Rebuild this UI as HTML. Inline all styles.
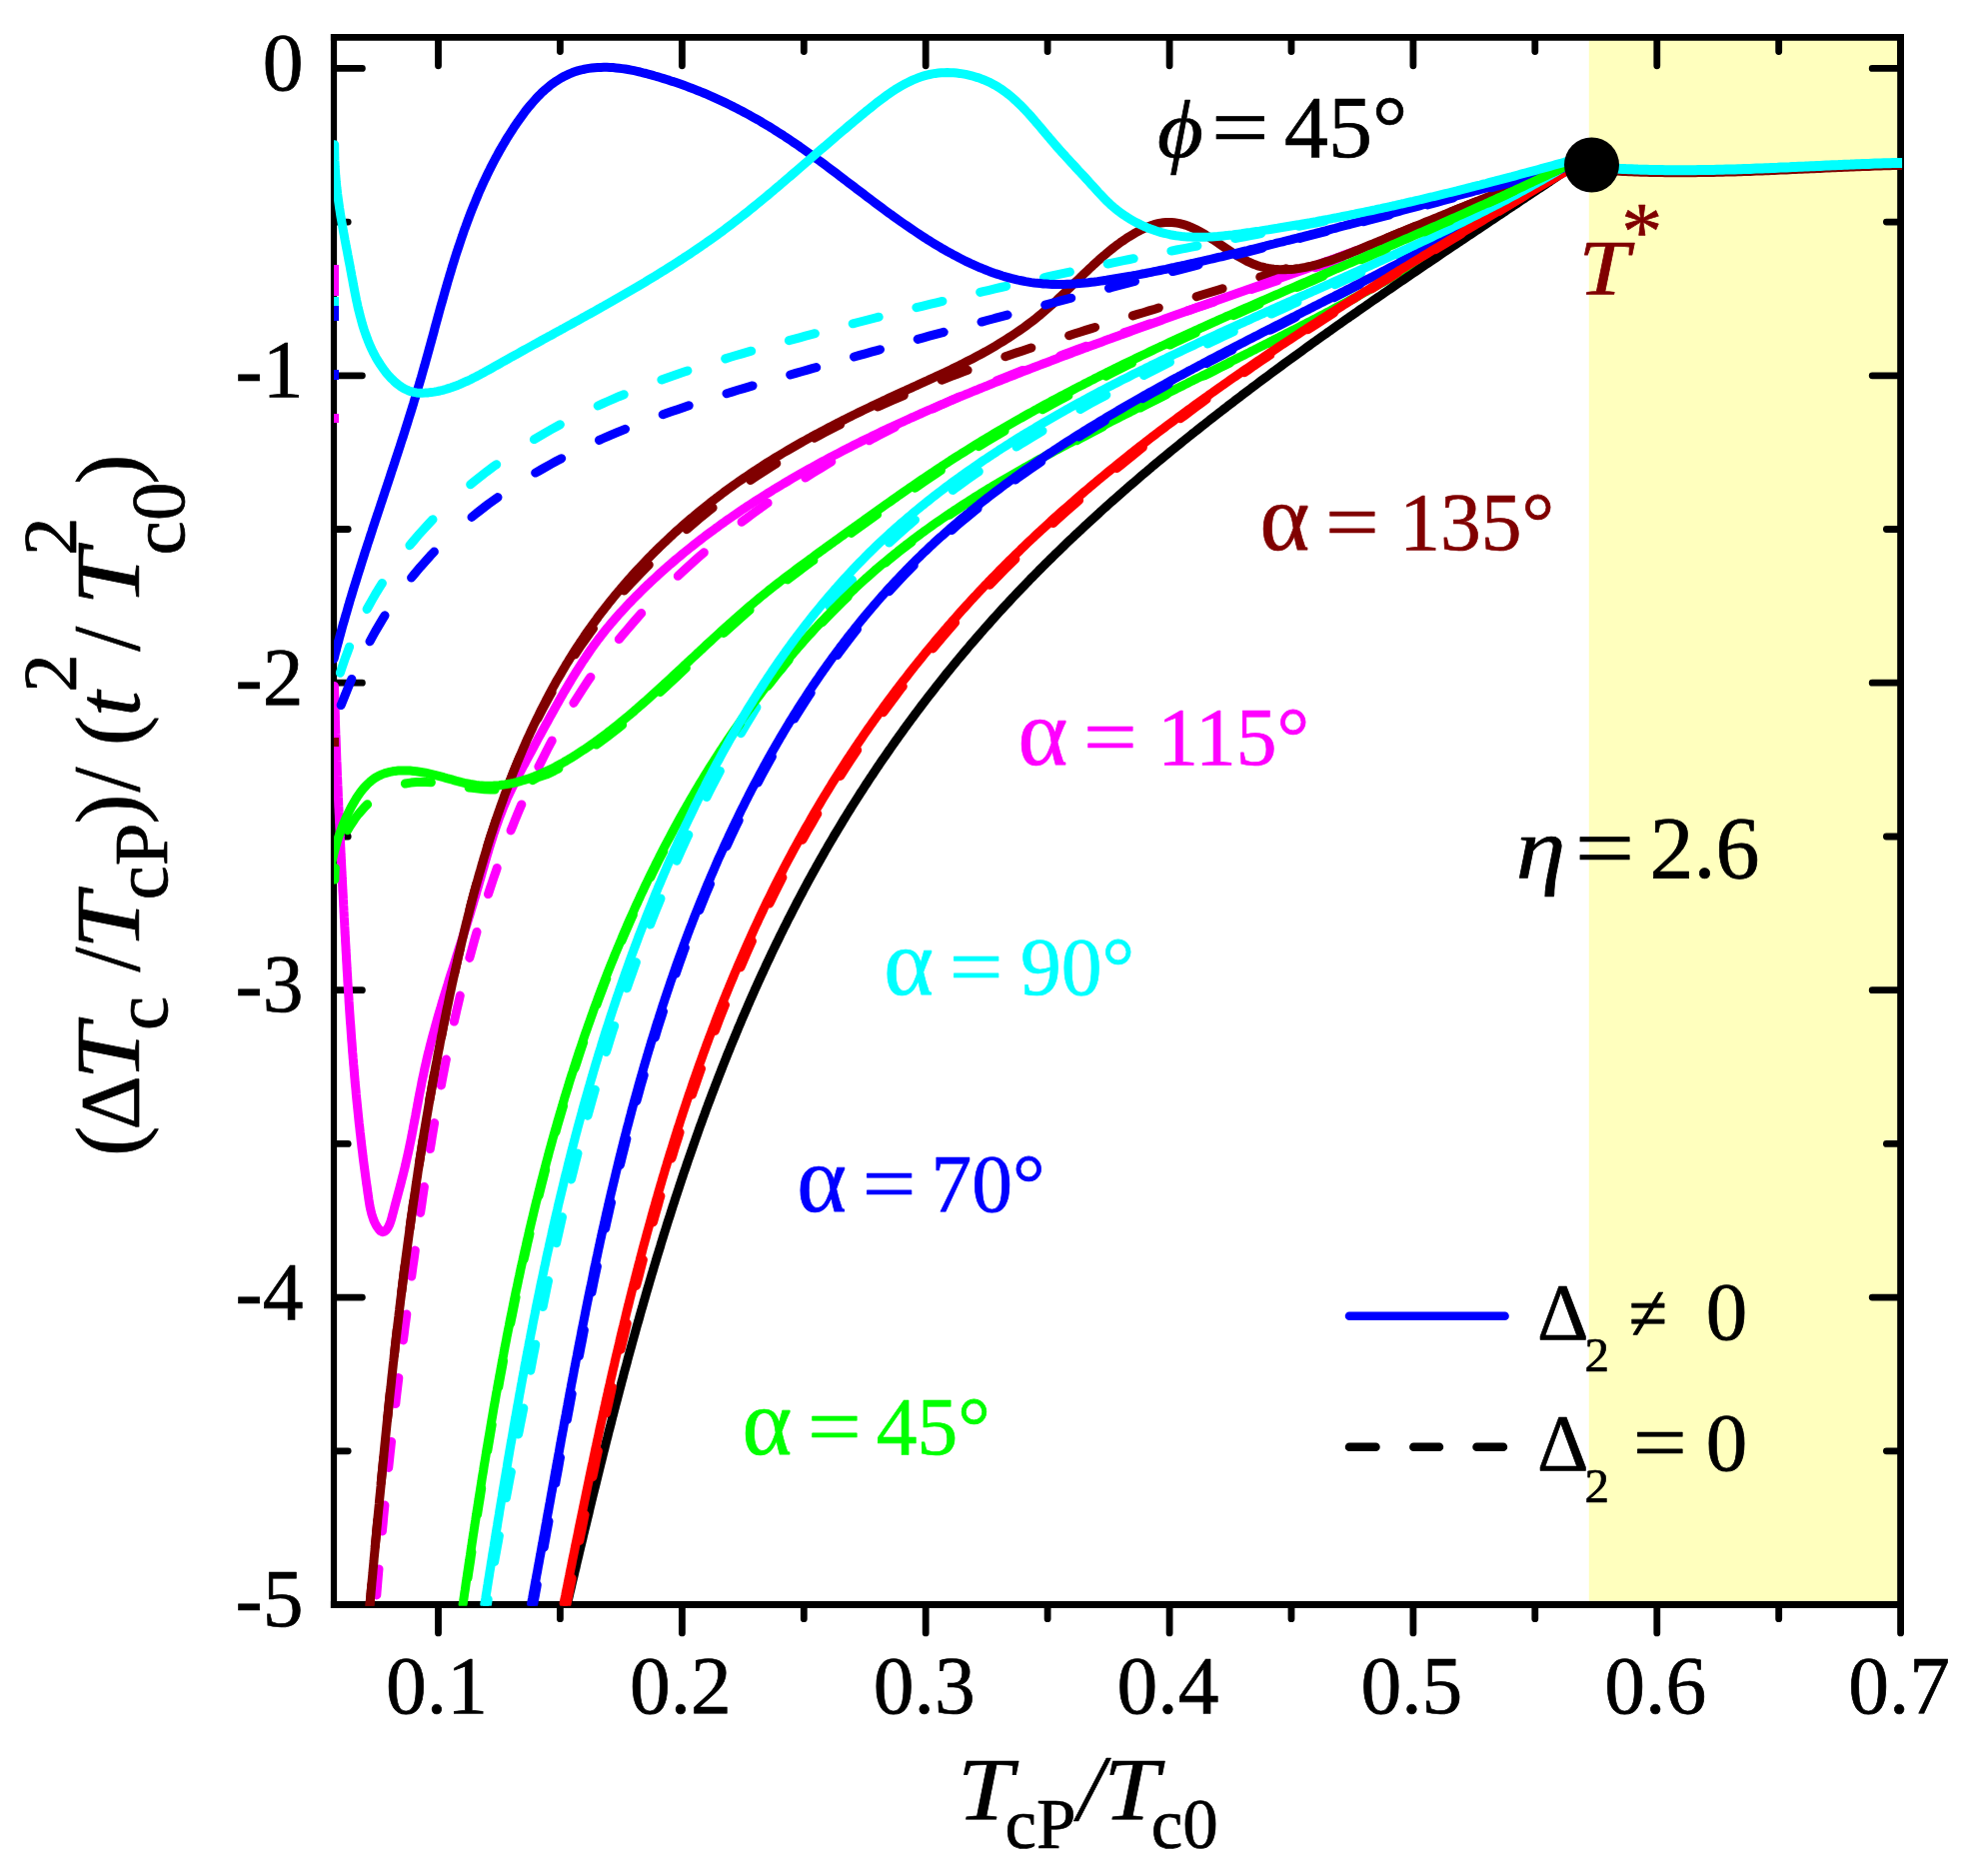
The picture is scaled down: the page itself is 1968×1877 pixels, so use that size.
<!DOCTYPE html>
<html><head><meta charset="utf-8"><title>Figure</title>
<style>
html,body{margin:0;padding:0;background:#fff}
svg{display:block}
text{font-family:"Liberation Serif","DejaVu Serif",serif;stroke-width:0.7px;stroke-linejoin:round}
#ylabel text{stroke:#000}
</style></head>
<body>
<svg width="1968" height="1877" viewBox="0 0 1968 1877">
<rect width="1968" height="1877" fill="#fff"/>
<defs><clipPath id="plot"><rect x="334" y="37.4" width="1569.1" height="1569.3"/></clipPath></defs>
<g id="frame">
<rect x="1589.8" y="37.4" width="311.8" height="1568.1" fill="#ffffbe"/>
<path d="M334 34V1608.9" stroke="#000" stroke-width="6.2" fill="none"/>
<path d="M330.9 37.4H1905M330.9 1605.5H1905M1901.6 37.4V1605.5" stroke="#000" stroke-width="6.8" fill="none"/>
<path d="M438.5 38.9v26.9M438.5 1607v26.9M560.4 38.9v12.7M560.4 1607v12.7M682.4 38.9v26.9M682.4 1607v26.9M804.3 38.9v12.7M804.3 1607v12.7M926.2 38.9v26.9M926.2 1607v26.9M1048.1 38.9v12.7M1048.1 1607v12.7M1170.1 38.9v26.9M1170.1 1607v26.9M1292 38.9v12.7M1292 1607v12.7M1413.9 38.9v26.9M1413.9 1607v26.9M1535.8 38.9v12.7M1535.8 1607v12.7M1657.8 38.9v26.9M1657.8 1607v26.9M1779.7 38.9v12.7M1779.7 1607v12.7M1901.6 38.9v26.9M1901.6 1607v26.9M335.5 68.4h26.9M1900.1 68.4h-26.9M335.5 222.1h12.7M1900.1 222.1h-12.7M335.5 375.8h26.9M1900.1 375.8h-26.9M335.5 529.5h12.7M1900.1 529.5h-12.7M335.5 683.2h26.9M1900.1 683.2h-26.9M335.5 837h12.7M1900.1 837h-12.7M335.5 990.7h26.9M1900.1 990.7h-26.9M335.5 1144.4h12.7M1900.1 1144.4h-12.7M335.5 1298.1h26.9M1900.1 1298.1h-26.9M335.5 1451.8h12.7M1900.1 1451.8h-12.7M335.5 1605.5h26.9M1900.1 1605.5h-26.9" stroke="#000" stroke-width="6.8" stroke-linecap="round" fill="none"/>
</g>
<g id="curves" clip-path="url(#plot)" fill="none" stroke-linecap="round" stroke-linejoin="round">
<path d="M369.9 1607.4L370.4 1601.3L370.7 1598.3L371.2 1592.3L371.5 1589.3L371.9 1585.1M375.3 1547.4L375.6 1544.1L376.2 1538.1L376.7 1532.1L377.3 1526.1L377.7 1521.4M381.3 1483.6L381.8 1478.1L382.4 1472.1L382.7 1469.1L383.3 1463.1L383.8 1457.6M387.6 1419.9L388.1 1415.3L388.7 1409.3L389.3 1403.3L389.9 1397.3L390.3 1393.9M394.4 1356.1L394.8 1352.5L395.4 1346.6L396.1 1340.6L396.8 1334.7L397.3 1330.1M401.8 1292.4L402.5 1287L403.2 1281L403.6 1278.1L404.3 1272.1L405.1 1266.4M410.1 1228.6L410.6 1224.6L411.4 1218.6L412.3 1212.7L413.1 1206.8L413.7 1202.6M419.3 1164.9L420.2 1159.3L421.1 1153.4L421.6 1150.4L422.5 1144.5L423.4 1138.9M429.7 1101.1L430.4 1097.1L431.5 1091.2L432.5 1085.3L433.6 1079.4L434.4 1075.1M441.5 1037.4L442.6 1032.1L443.7 1026.2L444.9 1020.3L446.1 1014.4L446.7 1011.4M454.8 973.6L455.6 970.1L456.9 964.2L458.2 958.3L459.6 952.4L460.7 947.6M470 909.9L471.1 905.4L472.6 899.6L474.2 893.7L475.8 887.9L476.9 883.9M487.9 846.1L489.3 841.6L491.1 835.8L493 830.1L494.9 824.4L496.3 820.1M509.9 782.4L511.1 779.2L513.2 773.7L516.6 765.3L518.9 759.8L520.3 756.4M538.1 718.6L540.5 714L543.2 708.8L547.5 700.9L550.3 695.7L552.1 692.6M575.2 654.9L578.3 650.2L581.6 645.3L586.8 638.1L590.3 633.2L593.5 628.9M624.5 591.1L630.1 584.9L634.2 580.6L640.4 574.1L644.6 569.8L649.3 565.1M687.1 529.7L690.6 526.6L697.4 520.8L702 516.9L709 511.3L713.1 508M750.8 480.5L754.8 477.8L759.8 474.5L767.3 469.7L772.3 466.5L776.8 463.7M814.6 438.2L819.9 435.4L825.3 432.6L830.7 429.8L836.1 427.1L840.6 424.8M878.3 407L882.4 405.1L888 402.7L893.5 400.2L899 397.8L904.3 395.6M942.1 380.2L946.5 378.5L952.1 376.4L957.7 374.2L963.4 372.1L968.1 370.3M1005.8 356.8L1008.8 355.8L1014.5 353.8L1023.1 350.9L1028.8 349L1031.8 348M1069.6 335.7L1074.7 334L1080.5 332.2L1086.2 330.4L1092 328.6L1095.6 327.5M1133.3 315.9L1138.2 314.4L1144 312.7L1149.8 310.9L1155.6 309.2L1159.3 308M1197.1 296.7L1201.8 295.2L1207.6 293.5L1213.4 291.7L1219.2 290L1223.1 288.8M1260.8 277.1L1265.3 275.7L1271 273.9L1276.8 272.1L1282.5 270.2L1286.8 268.8M1324.6 262.7L1330 261L1335.9 258.9L1338.8 257.8L1344.7 255.6L1350.6 253.4M1388.3 237.8L1393.6 235.6L1399.2 233.3L1404.8 231.1L1410.3 228.8L1414.3 227.1M1452.1 211.8L1456.9 209.8L1462.3 207.6L1467.7 205.5L1473.2 203.3L1478.1 201.3M1515.8 186.3L1520.1 184.6L1525.8 182.4L1531.4 180.2L1537.1 177.9L1541.8 176.1" stroke="#800000" stroke-width="9"/>
<path d="M376.8 1595.9L377.1 1592L377.6 1585.9L378.1 1579.9L378.6 1573.9L379 1569.9M382.4 1532.1L382.7 1528.9L383.3 1522.9L383.8 1516.9L384.4 1510.9L384.9 1506.1M388.7 1468.4L389.3 1463.1L389.9 1457.2L390.2 1454.2L390.9 1448.2L391.5 1442.4M395.8 1404.6L396.2 1400.6L396.9 1394.6L397.6 1388.7L398.3 1382.7L398.8 1378.6M403.4 1340.9L404.2 1335.1L404.9 1329.2L405.3 1326.2L406.1 1320.3L406.8 1314.9M411.7 1277.1L412.3 1272.7L413.1 1266.7L414 1260.8L414.8 1254.8L415.3 1251.1M420.6 1213.4L421.1 1210.1L422 1204.1L422.8 1198.2L423.7 1192.2L424.4 1187.4M430.3 1149.6L431.2 1144.5L432.1 1138.5L432.6 1135.5L433.6 1129.6L434.6 1123.6M441.4 1085.9L442.1 1082L443.2 1076.1L444.4 1070.1L445.5 1064.2L446.4 1059.9M454.3 1022.1L455.5 1017L456.8 1011.1L458.2 1005.2L459.6 999.3L460.3 996.1M469.8 958.4L470.6 955.5L472.2 949.6L473.8 943.8L475.4 938L477 932.4M488.5 894.6L490.3 889L492.2 883.3L494.1 877.6L496.1 871.9L497.2 868.6M511.1 830.9L512.8 826.7L515 821.1L517.3 815.5L519.6 810L521.8 804.9M538.9 767.1L540.8 763.4L543.5 758L547.5 750L550.3 744.7L552.2 741.1M573.9 703.4L575.7 700.6L580.5 693.1L583.7 688.1L588.7 680.6L590.9 677.4M619.3 639.6L622.8 635.4L628.6 628.6L632.5 624L638.4 617.3L641.7 613.6M678.3 576.3L682.3 572.5L689 566.4L693.4 562.4L700.1 556.4L704.3 552.8M742.1 522.2L746.9 518.6L751.7 515L759 509.7L763.9 506.2L768.1 503.2M805.8 478L808.9 476L814 472.8L821.7 468.1L826.9 465L831.8 462M869.6 440.8L873.9 438.4L879.3 435.6L887.2 431.5L892.6 428.7L895.6 427.2M933.3 408.9L938.5 406.5L944 404L949.5 401.5L955 399L959.3 397.1M997.1 381L1002 378.9L1007.6 376.7L1013.2 374.4L1018.8 372.2L1023.1 370.5M1060.8 355.9L1063.9 354.8L1069.5 352.7L1078 349.5L1083.7 347.4L1086.8 346.3M1124.6 332.8L1129.3 331.2L1135.1 329.2L1140.8 327.2L1146.5 325.2L1150.6 323.8M1188.3 310.9L1192.4 309.6L1198.1 307.6L1203.9 305.7L1209.6 303.8L1214.3 302.2M1252.1 289.5L1255.6 288.3L1261.3 286.4L1267 284.4L1272.8 282.5L1278.1 280.7M1315.8 267.8L1321.3 265.9L1327 263.9L1332.7 261.9L1338.4 259.9L1341.8 258.7M1379.6 245L1383.7 243.5L1389.3 241.4L1394.9 239.3L1400.6 237.2L1405.6 235.3M1443.3 220.5L1447.9 218.6L1453.5 216.4L1459 214.1L1464.5 211.8L1469.3 209.8M1507.1 193.3L1510.8 191.5L1516.2 189.1L1524.3 185.3L1529.7 182.8L1533.1 181.1" stroke="#ff00ff" stroke-width="9"/>
<path d="M487.4 1605.5L487.9 1602.6L488.2 1600.2M494.7 1562.5L495.3 1559L496.4 1553.2L497.4 1547.4L498.5 1541.6L499.4 1536.5M506.4 1498.7L507.1 1495L508.2 1489.2L509.3 1483.3L510.4 1477.5L511.4 1472.7M518.6 1435L519.5 1430.8L520.6 1424.9L521.8 1419.1L522.9 1413.3L523.8 1409M530.8 1371.2L531.7 1366.4L532.8 1360.5L533.9 1354.7L535.1 1348.8L535.7 1345.2M543.2 1307.5L544.3 1301.9L545.5 1296.1L546.7 1290.2L547.9 1284.4L548.5 1281.5M556.7 1243.7L557.3 1240.6L558.7 1234.8L560 1228.9L561.3 1223.1L562.5 1217.7M571.5 1180L572.3 1176.6L573.8 1170.8L575.2 1165L576.7 1159.2L578 1154M588 1116.2L588.9 1113L590.5 1107.2L592.1 1101.5L593.7 1095.7L595.3 1090.2M606.5 1052.5L608.2 1047.1L609.9 1041.4L611.7 1035.7L613.5 1030L614.7 1026.5M627.2 988.7L628.6 984.7L630.6 979.1L632.6 973.5L634.6 967.8L636.4 962.7M650.6 925L652.4 920.4L654.6 914.8L656.8 909.3L659.1 903.7L661 899M677 861.2L678.9 857L681.3 851.5L685 843.4L687.5 837.9L688.8 835.2M707 797.5L709.7 792.1L712.4 786.8L715.2 781.5L717.9 776.2L720.4 771.5M741.3 733.7L744 729.1L747.1 723.9L751.7 716.3L754.8 711.2L756.9 707.7M781.4 670L783.9 666.3L789 659L792.5 654.2L797.7 647L800 644M829.7 606.2L834.2 600.8L838.1 596.4L843.9 589.8L847.8 585.4L852.6 580.2M889.5 543.1L895.3 537.9L899.7 533.9L906.2 528.1L910.7 524.3L915.5 520.2M953.3 490.4L956.7 487.8L963.9 482.6L968.7 479.2L975.9 474.1L979.3 471.7M1017 447L1020.6 444.7L1025.7 441.6L1033.4 436.9L1038.5 433.8L1043 431.1M1080.8 409.5L1085.5 406.9L1090.7 403.9L1098.7 399.6L1104 396.7L1106.8 395.2M1144.5 375.4L1149.8 372.7L1155.3 369.9L1160.7 367.2L1166.2 364.5L1170.5 362.3M1208.3 344L1213 341.7L1218.5 339.1L1224 336.5L1229.6 333.9L1234.3 331.7M1272 314.1L1276.8 311.9L1282.4 309.3L1287.9 306.8L1293.5 304.2L1298 302.1M1335.8 284.8L1340.6 282.5L1346.1 280L1351.7 277.4L1357.2 274.9L1361.8 272.7M1399.5 255L1403.6 253L1409.1 250.4L1417.2 246.5L1422.6 243.9L1425.5 242.5M1463.3 223.7L1467.8 221.4L1473.1 218.7L1480.9 214.6L1486.1 211.9L1489.3 210.2M1527 189.6L1532 186.7L1537 183.9L1544.5 179.5L1549.4 176.6L1553 174.4" stroke="#00ffff" stroke-width="9"/>
<path d="M468 1578.9L468.8 1573.4L469.7 1567.5L470.6 1561.7L471.4 1555.9L471.9 1552.9M477.6 1515.2L478.1 1512L479 1506.2L480 1500.3L480.9 1494.4L481.7 1489.2M487.8 1451.4L488.5 1447.3L489.5 1441.4L490.5 1435.5L491.5 1429.6L492.2 1425.4M498.8 1387.7L499.7 1382.4L500.8 1376.5L501.9 1370.6L503 1364.7L503.5 1361.7M510.8 1323.9L511.5 1320.4L512.7 1314.5L513.9 1308.6L515.1 1302.7L516.1 1297.9M524.1 1260.2L525.2 1255.6L526.5 1249.7L527.8 1243.8L529.2 1237.9L530 1234.2M539.1 1196.4L540.4 1191.1L541.9 1185.2L543.4 1179.4L544.9 1173.5L545.7 1170.4M556 1132.7L557.5 1127.1L559.2 1121.3L560.9 1115.5L562.6 1109.8L563.5 1106.7M575.1 1068.9L576.8 1063.8L578.6 1058.1L580.5 1052.4L582.4 1046.7L583.7 1042.9M597 1005.2L598.3 1001.5L600.4 995.9L602.5 990.3L604.6 984.7L606.8 979.2M622 941.4L623.6 937.5L626 932L629.6 923.8L632 918.3L633.3 915.4M650.8 877.7L653.4 872.3L656 867L658.7 861.6L661.4 856.3L663.8 851.7M684 813.9L686.9 808.9L689.8 803.7L694.3 795.9L697.4 790.8L699.1 787.9M722.7 750.2L724.4 747.6L729.3 740.1L732.7 735.2L737.8 727.8L740.3 724.2M768.1 686.4L771.5 682.1L777.1 675L780.9 670.4L786.5 663.5L789.1 660.4M822.7 622.7L828.2 616.9L832.4 612.6L838.7 606.3L842.9 602.1L848.3 596.9M886 563L889.1 560.4L896 554.8L900.6 551.1L907.6 545.6L912 542.3M949.8 515.3L953.5 512.8L958.4 509.5L965.9 504.6L970.9 501.4L975.8 498.4M1013.5 475.6L1017 473.7L1022.2 470.7L1030 466.3L1035.3 463.3L1039.5 461M1077.3 440.7L1080.3 439.1L1085.7 436.3L1093.7 432.1L1099 429.3L1103.3 427.1M1141 407.9L1144.7 406L1150.1 403.3L1158.2 399.2L1163.6 396.5L1167 394.8M1204.8 375.9L1209.5 373.6L1214.9 370.9L1220.3 368.1L1225.7 365.4L1230.8 362.9M1268.5 343.8L1271.5 342.3L1276.8 339.6L1284.9 335.5L1290.2 332.7L1294.5 330.5M1332.3 310.7L1335.6 309L1340.9 306.1L1348.9 301.8L1354.2 299L1358.3 296.7M1396 275.7L1398.8 274.1L1404 271.1L1411.8 266.6L1417 263.5L1422 260.6M1459.8 237.6L1463.2 235.4L1468.2 232.2L1475.8 227.3L1480.9 224.1L1485.8 220.8M1523.5 195L1528 191.9L1532.9 188.3L1540.2 183L1545 179.4L1549.5 176" stroke="#00ff00" stroke-width="9"/>
<path d="M463.1 1605.1L463.6 1602.2L464 1599.4L464.4 1596.5L464.8 1593.6L465.3 1590.7L465.7 1587.8L466.1 1584.8L466.5 1581.9L467 1579L467.4 1576.1L467.8 1573.2L468.3 1570.3L468.7 1567.4L469.1 1564.5L469.6 1561.6L470 1558.7L470.5 1555.7L470.9 1552.8L471.3 1549.9L471.8 1547L472.2 1544.1L472.7 1541.1L473.1 1538.2L473.5 1535.3L474 1532.4L474.4 1529.4L474.9 1526.5L475.3 1523.6L475.8 1520.7L476.2 1517.7L476.7 1514.8L477.1 1511.9L477.6 1508.9L478.1 1506L478.5 1503.1L479 1500.1L479.4 1497.2L479.9 1494.3L480.4 1491.3L480.8 1488.4L481.3 1485.4L481.8 1482.5L482.2 1479.6L482.7 1476.6L483.2 1473.7L483.7 1470.7L484.1 1467.8L484.6 1464.8L485.1 1461.9L485.6 1459L486.1 1456L486.5 1453.1L487 1450.1L487.5 1447.2L488 1444.2L488.5 1441.3L489 1438.3L489.5 1435.4L490 1432.4L490.5 1429.5L491 1426.5L491.5 1423.6L492 1420.6L492.5 1417.7L493 1414.7L493.5 1411.8L494 1408.8L494.5 1405.9L495.1 1402.9L495.6 1399.9L496.1 1397L496.6 1394L497.2 1391.1L497.7 1388.1L498.2 1385.2L498.8 1382.2L499.3 1379.3L499.8 1376.3L500.4 1373.4L500.9 1370.4L501.5 1367.5L502 1364.5L502.6 1361.5L503.1 1358.6L503.7 1355.6L504.2 1352.7L504.8 1349.7L505.3 1346.8L505.9 1343.8L506.5 1340.9L507 1337.9L507.6 1335L508.2 1332L508.8 1329L509.4 1326.1L509.9 1323.1L510.5 1320.2L511.1 1317.2L511.7 1314.3L512.3 1311.3L512.9 1308.4L513.5 1305.4L514.1 1302.5L514.7 1299.5L515.3 1296.6L515.9 1293.6L516.5 1290.7L517.2 1287.7L517.8 1284.8L518.4 1281.8L519 1278.9L519.7 1275.9L520.3 1273L520.9 1270.1L521.6 1267.1L522.2 1264.2L522.9 1261.2L523.5 1258.3L524.2 1255.3L524.8 1252.4L525.5 1249.5L526.2 1246.5L526.8 1243.6L527.5 1240.6L528.2 1237.7L528.9 1234.8L529.5 1231.8L530.2 1228.9L530.9 1226L531.6 1223L532.3 1220.1L533 1217.2L533.7 1214.2L534.4 1211.3L535.1 1208.4L535.8 1205.4L536.5 1202.5L537.3 1199.6L538 1196.7L538.7 1193.7L539.5 1190.8L540.2 1187.9L540.9 1185L541.7 1182L542.4 1179.1L543.2 1176.2L543.9 1173.3L544.7 1170.4L545.5 1167.5L546.2 1164.6L547 1161.6L547.8 1158.7L548.6 1155.8L549.3 1152.9L550.1 1150L550.9 1147.1L551.7 1144.2L552.5 1141.3L553.3 1138.4L554.1 1135.5L554.9 1132.6L555.8 1129.7L556.6 1126.8L557.4 1123.9L558.2 1121L559.1 1118.1L559.9 1115.2L560.8 1112.4L561.6 1109.5L562.5 1106.6L563.3 1103.7L564.2 1100.8L565 1097.9L565.9 1095.1L566.8 1092.2L567.7 1089.3L568.6 1086.4L569.4 1083.6L570.3 1080.7L571.2 1077.8L572.1 1075L573.1 1072.1L574 1069.2L574.9 1066.4L575.8 1063.5L576.7 1060.7L577.7 1057.8L578.6 1055L579.5 1052.1L580.5 1049.3L581.5 1046.4L582.4 1043.6L583.4 1040.7L584.3 1037.9L585.3 1035.1L586.3 1032.2L587.3 1029.4L588.3 1026.6L589.3 1023.7L590.3 1020.9L591.3 1018.1L592.3 1015.2L593.3 1012.4L594.3 1009.6L595.3 1006.8L596.4 1004L597.4 1001.2L598.4 998.3L599.5 995.5L600.5 992.7L601.6 989.9L602.6 987.1L603.7 984.3L604.8 981.5L605.9 978.7L606.9 976L608 973.2L609.1 970.4L610.2 967.6L611.3 964.8L612.5 962L613.6 959.3L614.7 956.5L615.8 953.7L617 950.9L618.1 948.2L619.3 945.4L620.4 942.7L621.6 939.9L622.7 937.1L623.9 934.4L625.1 931.6L626.3 928.9L627.4 926.1L628.6 923.4L629.8 920.7L631 917.9L632.3 915.2L633.5 912.5L634.7 909.7L635.9 907L637.2 904.3L638.4 901.6L639.7 898.9L640.9 896.1L642.2 893.4L643.5 890.7L644.7 888L646 885.3L647.3 882.6L648.6 879.9L649.9 877.2L651.2 874.6L652.5 871.9L653.8 869.2L655.2 866.5L656.5 863.8L657.8 861.2L659.2 858.5L660.5 855.8L661.9 853.2L663.2 850.5L664.6 847.8L666 845.2L667.4 842.5L668.8 839.9L670.2 837.3L671.6 834.6L673 832L674.4 829.3L675.8 826.7L677.3 824.1L678.7 821.5L680.2 818.8L681.6 816.2L683.1 813.6L684.5 811L686 808.4L687.5 805.8L689 803.2L690.5 800.6L692 798L693.5 795.4L695 792.9L696.5 790.3L698.1 787.7L699.6 785.1L701.1 782.6L702.7 780L704.3 777.4L705.8 774.9L707.4 772.3L709 769.8L710.6 767.2L712.2 764.7L713.8 762.2L715.4 759.6L717 757.1L718.6 754.6L720.2 752.1L721.9 749.6L723.5 747.1L725.2 744.6L726.8 742.1L728.5 739.6L730.2 737.1L731.9 734.6L733.6 732.1L735.3 729.7L737 727.2L738.7 724.7L740.4 722.3L742.1 719.8L743.9 717.4L745.6 715L747.3 712.5L749.1 710.1L750.9 707.7L752.6 705.3L754.4 702.9L756.2 700.5L758 698.1L759.8 695.7L761.6 693.3L763.4 690.9L765.2 688.5L767.1 686.2L768.9 683.8L770.7 681.4L772.6 679.1L774.5 676.8L776.3 674.4L778.2 672.1L780.1 669.8L782 667.5L783.9 665.1L785.8 662.8L787.7 660.6L789.6 658.3L791.5 656L793.5 653.7L795.4 651.4L797.4 649.2L799.3 646.9L801.3 644.7L803.3 642.5L805.2 640.2L807.2 638L809.2 635.8L811.2 633.6L813.2 631.4L815.2 629.2L817.3 627L819.3 624.8L821.3 622.7L823.4 620.5L825.5 618.3L827.5 616.2L829.6 614.1L831.7 611.9L833.8 609.8L835.9 607.7L838 605.6L840.1 603.5L842.2 601.4L844.3 599.3L846.4 597.3L848.6 595.2L850.7 593.2L852.9 591.1L855.1 589.1L857.2 587.1L859.4 585L861.6 583L863.8 581L866 579L868.2 577.1L870.4 575.1L872.7 573.1L874.9 571.2L877.1 569.2L879.4 567.3L881.6 565.4L883.9 563.5L886.2 561.6L888.5 559.7L890.8 557.8L893.1 555.9L895.4 554L897.7 552.2L900 550.3L902.3 548.5L904.7 546.7L907 544.8L909.4 543L911.7 541.2L914.1 539.4L916.5 537.7L918.9 535.9L921.2 534.1L923.6 532.4L926 530.6L928.5 528.9L930.9 527.2L933.3 525.4L935.7 523.7L938.2 522L940.6 520.3L943.1 518.6L945.5 517L948 515.3L950.4 513.6L952.9 512L955.4 510.3L957.9 508.7L960.4 507L962.9 505.4L965.4 503.8L967.9 502.2L970.4 500.6L972.9 499L975.4 497.4L978 495.8L980.5 494.2L983 492.7L985.6 491.1L988.1 489.5L990.7 488L993.3 486.4L995.8 484.9L998.4 483.4L1001 481.8L1003.5 480.3L1006.1 478.8L1008.7 477.3L1011.3 475.8L1013.9 474.3L1016.5 472.8L1019.1 471.3L1021.7 469.8L1024.3 468.3L1026.9 466.9L1029.6 465.4L1032.2 463.9L1034.8 462.5L1037.4 461L1040.1 459.5L1042.7 458.1L1045.3 456.6L1048 455.2L1050.6 453.8L1053.3 452.3L1055.9 450.9L1058.6 449.5L1061.2 448.1L1063.9 446.6L1066.5 445.2L1069.2 443.8L1071.9 442.4L1074.5 441L1077.2 439.6L1079.9 438.2L1082.5 436.8L1085.2 435.4L1087.9 434L1090.6 432.6L1093.2 431.3L1095.9 429.9L1098.6 428.5L1101.3 427.1L1104 425.7L1106.7 424.4L1109.3 423L1112 421.6L1114.7 420.2L1117.4 418.9L1120.1 417.5L1122.8 416.1L1125.5 414.8L1128.2 413.4L1130.9 412.1L1133.6 410.7L1136.3 409.3L1139 408L1141.7 406.6L1144.4 405.3L1147.1 403.9L1149.8 402.6L1152.5 401.2L1155.2 399.9L1157.9 398.5L1160.6 397.2L1163.3 395.8L1166 394.5L1168.7 393.1L1171.4 391.8L1174.1 390.4L1176.8 389.1L1179.5 387.7L1182.2 386.4L1184.9 385L1187.6 383.7L1190.3 382.3L1193 381L1195.7 379.6L1198.4 378.3L1201.1 377L1203.8 375.6L1206.5 374.3L1209.2 372.9L1211.9 371.6L1214.6 370.2L1217.3 368.9L1220 367.5L1222.7 366.2L1225.4 364.8L1228.1 363.5L1230.8 362.1L1233.5 360.8L1236.2 359.4L1238.9 358.1L1241.6 356.7L1244.3 355.4L1247 354L1249.7 352.7L1252.4 351.3L1255.1 350L1257.7 348.6L1260.4 347.2L1263.1 345.9L1265.8 344.5L1268.5 343.2L1271.2 341.8L1273.9 340.4L1276.6 339.1L1279.3 337.7L1281.9 336.3L1284.6 335L1287.3 333.6L1290 332.2L1292.7 330.8L1295.4 329.5L1298 328.1L1300.7 326.7L1303.4 325.3L1306.1 323.9L1308.7 322.5L1311.4 321.2L1314.1 319.8L1316.8 318.4L1319.4 317L1322.1 315.6L1324.8 314.2L1327.4 312.8L1330.1 311.4L1332.7 310L1335.4 308.5L1338.1 307.1L1340.7 305.7L1343.4 304.3L1346 302.9L1348.7 301.5L1351.3 300L1354 298.6L1356.6 297.2L1359.2 295.7L1361.9 294.3L1364.5 292.8L1367.2 291.4L1369.8 290L1372.4 288.5L1375.1 287L1377.7 285.6L1380.3 284.1L1382.9 282.7L1385.6 281.2L1388.2 279.7L1390.8 278.2L1393.4 276.8L1396 275.3L1398.6 273.8L1401.3 272.3L1403.9 270.8L1406.5 269.3L1409.1 267.8L1411.7 266.3L1414.3 264.8L1416.9 263.3L1419.4 261.8L1422 260.2L1424.6 258.7L1427.2 257.2L1429.8 255.6L1432.4 254.1L1434.9 252.6L1437.5 251L1440.1 249.5L1442.6 247.9L1445.2 246.3L1447.8 244.8L1450.3 243.2L1452.9 241.6L1455.4 240L1458 238.4L1460.5 236.9L1463.1 235.3L1465.6 233.7L1468.1 232L1470.7 230.4L1473.2 228.8L1475.7 227.2L1478.2 225.6L1480.8 223.9L1483.3 222.3L1485.8 220.6L1488.3 219L1490.8 217.3L1493.3 215.7L1495.8 214L1498.3 212.3L1500.8 210.7L1503.3 209L1505.8 207.3L1508.2 205.6L1510.7 203.9L1513.2 202.2L1515.7 200.5L1518.1 198.7L1520.6 197L1523.1 195.3L1525.5 193.5L1528 191.8L1530.4 190L1532.8 188.3L1535.3 186.5L1537.7 184.8L1540.1 183L1542.6 181.2L1545 179.4L1547.4 177.6L1549.8 175.8L1552.2 174L1554.6 172.2L1557 170.3L1559.4 168.5L1561.8 166.7" stroke="#00ff00" stroke-width="9"/>
<path d="M567.5 1604.8L568.1 1601.9L568.8 1599.1L569.5 1596.2L570.1 1593.4L570.8 1590.6L571.5 1587.7L572.1 1584.9L572.8 1582L573.5 1579.2L574.2 1576.3L574.8 1573.5L575.5 1570.6L576.2 1567.8L576.8 1564.9L577.5 1562L578.2 1559.2L578.9 1556.3L579.5 1553.5L580.2 1550.6L580.9 1547.7L581.6 1544.9L582.3 1542L583 1539.1L583.6 1536.3L584.3 1533.4L585 1530.5L585.7 1527.6L586.4 1524.8L587.1 1521.9L587.8 1519L588.5 1516.1L589.2 1513.3L589.8 1510.4L590.5 1507.5L591.2 1504.6L591.9 1501.7L592.6 1498.9L593.3 1496L594 1493.1L594.7 1490.2L595.5 1487.3L596.2 1484.4L596.9 1481.5L597.6 1478.7L598.3 1475.8L599 1472.9L599.7 1470L600.4 1467.1L601.1 1464.2L601.9 1461.3L602.6 1458.4L603.3 1455.5L604 1452.6L604.8 1449.7L605.5 1446.8L606.2 1443.9L606.9 1441L607.7 1438.1L608.4 1435.2L609.1 1432.3L609.9 1429.5L610.6 1426.6L611.4 1423.7L612.1 1420.8L612.8 1417.9L613.6 1415L614.3 1412.1L615.1 1409.1L615.8 1406.2L616.6 1403.3L617.4 1400.4L618.1 1397.5L618.9 1394.6L619.6 1391.7L620.4 1388.8L621.2 1385.9L621.9 1383L622.7 1380.1L623.5 1377.2L624.2 1374.3L625 1371.4L625.8 1368.5L626.6 1365.6L627.4 1362.7L628.1 1359.8L628.9 1356.9L629.7 1354L630.5 1351.1L631.3 1348.2L632.1 1345.3L632.9 1342.4L633.7 1339.5L634.5 1336.6L635.3 1333.7L636.1 1330.8L636.9 1327.9L637.7 1325L638.6 1322.1L639.4 1319.2L640.2 1316.3L641 1313.4L641.8 1310.5L642.7 1307.6L643.5 1304.7L644.3 1301.8L645.2 1298.9L646 1296L646.8 1293.1L647.7 1290.2L648.5 1287.3L649.4 1284.4L650.2 1281.5L651.1 1278.6L651.9 1275.7L652.8 1272.8L653.7 1269.9L654.5 1267L655.4 1264.1L656.3 1261.2L657.1 1258.3L658 1255.4L658.9 1252.6L659.8 1249.7L660.7 1246.8L661.5 1243.9L662.4 1241L663.3 1238.1L664.2 1235.2L665.1 1232.4L666 1229.5L666.9 1226.6L667.8 1223.7L668.7 1220.8L669.7 1218L670.6 1215.1L671.5 1212.2L672.4 1209.3L673.3 1206.4L674.3 1203.6L675.2 1200.7L676.1 1197.8L677.1 1195L678 1192.1L679 1189.2L679.9 1186.3L680.9 1183.5L681.8 1180.6L682.8 1177.8L683.7 1174.9L684.7 1172L685.7 1169.2L686.7 1166.3L687.6 1163.5L688.6 1160.6L689.6 1157.7L690.6 1154.9L691.6 1152L692.6 1149.2L693.6 1146.3L694.6 1143.5L695.6 1140.6L696.6 1137.8L697.6 1135L698.6 1132.1L699.6 1129.3L700.6 1126.4L701.7 1123.6L702.7 1120.8L703.7 1117.9L704.8 1115.1L705.8 1112.3L706.8 1109.4L707.9 1106.6L708.9 1103.8L710 1101L711.1 1098.1L712.1 1095.3L713.2 1092.5L714.3 1089.7L715.3 1086.9L716.4 1084.1L717.5 1081.3L718.6 1078.4L719.7 1075.6L720.8 1072.8L721.9 1070L723 1067.2L724.1 1064.4L725.2 1061.6L726.3 1058.8L727.4 1056L728.5 1053.3L729.7 1050.5L730.8 1047.7L731.9 1044.9L733.1 1042.1L734.2 1039.3L735.4 1036.6L736.5 1033.8L737.7 1031L738.8 1028.2L740 1025.5L741.2 1022.7L742.3 1019.9L743.5 1017.2L744.7 1014.4L745.9 1011.7L747.1 1008.9L748.3 1006.1L749.5 1003.4L750.7 1000.6L751.9 997.9L753.1 995.2L754.3 992.4L755.5 989.7L756.8 986.9L758 984.2L759.2 981.5L760.5 978.8L761.7 976L763 973.3L764.2 970.6L765.5 967.9L766.7 965.2L768 962.4L769.3 959.7L770.6 957L771.8 954.3L773.1 951.6L774.4 948.9L775.7 946.2L777 943.5L778.3 940.9L779.6 938.2L780.9 935.5L782.3 932.8L783.6 930.1L784.9 927.4L786.3 924.8L787.6 922.1L788.9 919.4L790.3 916.8L791.7 914.1L793 911.5L794.4 908.8L795.8 906.2L797.1 903.5L798.5 900.9L799.9 898.2L801.3 895.6L802.7 893L804.1 890.3L805.5 887.7L806.9 885.1L808.3 882.4L809.7 879.8L811.2 877.2L812.6 874.6L814 872L815.5 869.4L816.9 866.8L818.4 864.2L819.9 861.6L821.3 859L822.8 856.4L824.3 853.8L825.7 851.2L827.2 848.7L828.7 846.1L830.2 843.5L831.7 841L833.2 838.4L834.7 835.8L836.3 833.3L837.8 830.7L839.3 828.2L840.9 825.6L842.4 823.1L843.9 820.5L845.5 818L847 815.5L848.6 812.9L850.2 810.4L851.7 807.9L853.3 805.4L854.9 802.9L856.5 800.4L858.1 797.9L859.7 795.3L861.3 792.8L862.9 790.4L864.5 787.9L866.1 785.4L867.8 782.9L869.4 780.4L871 777.9L872.7 775.5L874.3 773L876 770.5L877.6 768.1L879.3 765.6L880.9 763.1L882.6 760.7L884.3 758.2L886 755.8L887.7 753.4L889.4 750.9L891.1 748.5L892.8 746L894.5 743.6L896.2 741.2L897.9 738.8L899.6 736.4L901.4 734L903.1 731.6L904.8 729.1L906.6 726.7L908.3 724.4L910.1 722L911.8 719.6L913.6 717.2L915.4 714.8L917.2 712.4L918.9 710.1L920.7 707.7L922.5 705.3L924.3 703L926.1 700.6L927.9 698.3L929.7 695.9L931.6 693.6L933.4 691.2L935.2 688.9L937 686.6L938.9 684.2L940.7 681.9L942.6 679.6L944.4 677.3L946.3 674.9L948.1 672.6L950 670.3L951.9 668L953.8 665.7L955.7 663.4L957.5 661.1L959.4 658.9L961.3 656.6L963.2 654.3L965.2 652L967.1 649.8L969 647.5L970.9 645.2L972.8 643L974.8 640.7L976.7 638.5L978.7 636.2L980.6 634L982.6 631.8L984.5 629.5L986.5 627.3L988.5 625.1L990.5 622.9L992.4 620.6L994.4 618.4L996.4 616.2L998.4 614L1000.4 611.8L1002.4 609.6L1004.4 607.4L1006.4 605.2L1008.5 603.1L1010.5 600.9L1012.5 598.7L1014.6 596.5L1016.6 594.4L1018.7 592.2L1020.7 590.1L1022.8 587.9L1024.8 585.8L1026.9 583.6L1029 581.5L1031 579.3L1033.1 577.2L1035.2 575.1L1037.3 573L1039.4 570.8L1041.5 568.7L1043.6 566.6L1045.7 564.5L1047.8 562.4L1050 560.3L1052.1 558.2L1054.2 556.1L1056.3 554L1058.5 551.9L1060.6 549.9L1062.8 547.8L1064.9 545.7L1067.1 543.6L1069.2 541.6L1071.4 539.5L1073.6 537.5L1075.7 535.4L1077.9 533.4L1080.1 531.3L1082.3 529.3L1084.5 527.2L1086.7 525.2L1088.8 523.2L1091.1 521.1L1093.3 519.1L1095.5 517.1L1097.7 515.1L1099.9 513.1L1102.1 511L1104.3 509L1106.6 507L1108.8 505L1111 503L1113.3 501L1115.5 499.1L1117.8 497.1L1120 495.1L1122.3 493.1L1124.5 491.1L1126.8 489.2L1129.1 487.2L1131.3 485.2L1133.6 483.3L1135.9 481.3L1138.2 479.3L1140.4 477.4L1142.7 475.4L1145 473.5L1147.3 471.6L1149.6 469.6L1151.9 467.7L1154.2 465.7L1156.5 463.8L1158.8 461.9L1161.1 460L1163.5 458L1165.8 456.1L1168.1 454.2L1170.4 452.3L1172.7 450.4L1175.1 448.5L1177.4 446.6L1179.8 444.7L1182.1 442.8L1184.4 440.9L1186.8 439L1189.1 437.1L1191.5 435.2L1193.8 433.3L1196.2 431.5L1198.6 429.6L1200.9 427.7L1203.3 425.8L1205.7 424L1208 422.1L1210.4 420.2L1212.8 418.4L1215.2 416.5L1217.5 414.7L1219.9 412.8L1222.3 411L1224.7 409.1L1227.1 407.3L1229.5 405.4L1231.9 403.6L1234.3 401.8L1236.7 399.9L1239.1 398.1L1241.5 396.3L1243.9 394.4L1246.3 392.6L1248.7 390.8L1251.1 389L1253.5 387.1L1256 385.3L1258.4 383.5L1260.8 381.7L1263.2 379.9L1265.6 378.1L1268.1 376.3L1270.5 374.5L1272.9 372.7L1275.4 370.9L1277.8 369.1L1280.2 367.3L1282.7 365.5L1285.1 363.7L1287.6 361.9L1290 360.2L1292.5 358.4L1294.9 356.6L1297.4 354.8L1299.8 353.1L1302.3 351.3L1304.7 349.5L1307.2 347.7L1309.6 346L1312.1 344.2L1314.5 342.4L1317 340.7L1319.5 338.9L1321.9 337.2L1324.4 335.4L1326.9 333.7L1329.3 331.9L1331.8 330.2L1334.3 328.4L1336.7 326.7L1339.2 324.9L1341.7 323.2L1344.2 321.4L1346.6 319.7L1349.1 318L1351.6 316.2L1354.1 314.5L1356.6 312.8L1359 311L1361.5 309.3L1364 307.6L1366.5 305.9L1369 304.1L1371.5 302.4L1373.9 300.7L1376.4 299L1378.9 297.3L1381.4 295.6L1383.9 293.8L1386.4 292.1L1388.9 290.4L1391.4 288.7L1393.8 287L1396.3 285.3L1398.8 283.6L1401.3 281.9L1403.8 280.2L1406.3 278.5L1408.8 276.8L1411.3 275.1L1413.8 273.4L1416.3 271.7L1418.8 270L1421.3 268.3L1423.8 266.6L1426.3 264.9L1428.8 263.2L1431.3 261.5L1433.8 259.9L1436.3 258.2L1438.7 256.5L1441.2 254.8L1443.7 253.1L1446.2 251.4L1448.7 249.8L1451.2 248.1L1453.7 246.4L1456.2 244.7L1458.7 243L1461.2 241.4L1463.7 239.7L1466.2 238L1468.7 236.3L1471.2 234.7L1473.7 233L1476.2 231.3L1478.7 229.7L1481.2 228L1483.7 226.3L1486.1 224.7L1488.6 223L1491.1 221.3L1493.6 219.7L1496.1 218L1498.6 216.3L1501.1 214.7L1503.6 213L1506.1 211.4L1508.5 209.7L1511 208L1513.5 206.4L1516 204.7L1518.5 203.1L1521 201.4L1523.4 199.7L1525.9 198.1L1528.4 196.4L1530.9 194.8L1533.4 193.1L1535.8 191.5L1538.3 189.8L1540.8 188.2L1543.3 186.5L1545.7 184.9L1548.2 183.2L1550.7 181.6L1553.1 179.9L1555.6 178.3L1558.1 176.6L1560.5 174.9L1563 173.3L1565.5 171.6" stroke="#000000" stroke-width="9"/>
<path d="M533.8 1605L534.3 1602.1L535.4 1596.4L535.9 1593.5L537 1587.7L537.3 1585.7M544.3 1548L544.9 1544.3L546 1538.5L547 1532.7L548.1 1526.9L549 1522M555.8 1484.2L556.5 1480.1L557.6 1474.3L558.7 1468.4L559.7 1462.5L560.5 1458.2M567.4 1420.5L568.3 1415.5L569.4 1409.6L570.5 1403.7L571.6 1397.8L572.2 1394.5M579.4 1356.7L580 1353.6L581.1 1347.7L582.3 1341.8L583.4 1335.9L584.4 1330.7M592 1293L592.9 1288.6L594.1 1282.7L595.3 1276.8L596.6 1270.9L597.4 1267M605.6 1229.2L606.8 1223.7L608.1 1217.9L608.8 1214.9L610.1 1209L611.5 1203.2M620.4 1165.5L621.3 1162.1L622.7 1156.3L624.2 1150.4L625.6 1144.6L626.9 1139.5M636.9 1101.7L637.9 1098L639.5 1092.2L641.1 1086.4L642.8 1080.6L644.2 1075.7M655.3 1038L656.4 1034.6L658.1 1028.8L659.9 1023.1L661.8 1017.4L663.5 1012M676.2 974.2L677.9 969.2L679.9 963.5L681.9 957.9L683.9 952.3L685.4 948.2M699.8 910.5L702.1 904.9L704.3 899.4L706.5 893.9L708.8 888.4L710.5 884.5M727 846.7L729.1 842.1L731.6 836.7L734.1 831.3L736.7 825.9L739.2 820.7M758.3 783L760.8 778.1L763.6 772.9L767.9 765.1L770.8 759.9L772.4 757M794.6 719.2L796.4 716.4L801.1 708.9L804.3 703.9L809.1 696.4L811.2 693.2M837.6 655.5L839.6 652.8L844.9 645.7L848.5 641L853.9 634L857.5 629.5M889.6 591.7L893.9 587L900 580.5L904 576.2L910.2 569.9L914.3 565.7M952.1 530.5L957.6 525.7L962.1 521.9L968.9 516.2L973.4 512.5L978.1 508.7M1015.8 480L1018.3 478.2L1025.6 473L1030.5 469.6L1037.9 464.5L1041.8 461.8M1079.6 437L1083.1 434.8L1088.2 431.6L1095.9 426.8L1101.1 423.6L1105.6 420.9M1143.3 398.7L1148.2 395.9L1153.5 392.9L1158.8 390L1164.2 387L1169.3 384.1M1207.1 363.6L1209.8 362.1L1215.2 359.3L1223.4 355L1228.8 352.1L1233.1 349.9M1270.8 330.3L1275 328.2L1280.4 325.4L1288.6 321.2L1294.1 318.4L1296.8 317M1334.6 297.7L1337.5 296.2L1343 293.4L1351.1 289.2L1356.5 286.5L1360.6 284.4M1398.3 264.7L1402.1 262.7L1407.4 259.9L1415.4 255.7L1420.6 252.8L1424.3 250.8M1462.1 230.1L1465 228.4L1472.8 224L1477.9 221.1L1485.5 216.7L1488.1 215.2M1525.8 192.4L1530.5 189.5L1535.4 186.4L1542.6 181.8L1547.5 178.6L1551.8 175.8" stroke="#0000ff" stroke-width="9"/>
<path d="M531.6 1604.6L532.1 1601.7L532.7 1598.8L533.2 1595.9L533.7 1593.1L534.3 1590.2L534.8 1587.3L535.3 1584.4L535.9 1581.5L536.4 1578.7L536.9 1575.8L537.5 1572.9L538 1570L538.5 1567.1L539.1 1564.2L539.6 1561.3L540.1 1558.4L540.7 1555.5L541.2 1552.6L541.7 1549.7L542.2 1546.8L542.8 1543.9L543.3 1541L543.8 1538.1L544.4 1535.2L544.9 1532.3L545.4 1529.4L545.9 1526.5L546.5 1523.6L547 1520.6L547.5 1517.7L548 1514.8L548.6 1511.9L549.1 1509L549.6 1506.1L550.2 1503.1L550.7 1500.2L551.2 1497.3L551.7 1494.4L552.3 1491.5L552.8 1488.5L553.3 1485.6L553.9 1482.7L554.4 1479.7L554.9 1476.8L555.4 1473.9L556 1471L556.5 1468L557 1465.1L557.6 1462.2L558.1 1459.2L558.6 1456.3L559.2 1453.3L559.7 1450.4L560.2 1447.5L560.8 1444.5L561.3 1441.6L561.8 1438.7L562.4 1435.7L562.9 1432.8L563.5 1429.8L564 1426.9L564.5 1423.9L565.1 1421L565.6 1418.1L566.2 1415.1L566.7 1412.2L567.2 1409.2L567.8 1406.3L568.3 1403.3L568.9 1400.4L569.4 1397.4L570 1394.5L570.5 1391.5L571.1 1388.6L571.6 1385.6L572.2 1382.7L572.8 1379.7L573.3 1376.8L573.9 1373.8L574.4 1370.9L575 1367.9L575.6 1365L576.1 1362L576.7 1359.1L577.3 1356.1L577.8 1353.2L578.4 1350.2L579 1347.2L579.5 1344.3L580.1 1341.3L580.7 1338.4L581.3 1335.4L581.8 1332.5L582.4 1329.5L583 1326.6L583.6 1323.6L584.2 1320.7L584.8 1317.7L585.4 1314.7L585.9 1311.8L586.5 1308.8L587.1 1305.9L587.7 1302.9L588.3 1300L588.9 1297L589.5 1294.1L590.1 1291.1L590.7 1288.2L591.4 1285.2L592 1282.3L592.6 1279.3L593.2 1276.3L593.8 1273.4L594.4 1270.4L595 1267.5L595.7 1264.5L596.3 1261.6L596.9 1258.6L597.6 1255.7L598.2 1252.7L598.8 1249.8L599.5 1246.8L600.1 1243.9L600.7 1240.9L601.4 1238L602 1235L602.7 1232.1L603.3 1229.2L604 1226.2L604.7 1223.3L605.3 1220.3L606 1217.4L606.6 1214.4L607.3 1211.5L608 1208.5L608.7 1205.6L609.3 1202.7L610 1199.7L610.7 1196.8L611.4 1193.8L612.1 1190.9L612.8 1188L613.5 1185L614.2 1182.1L614.9 1179.2L615.6 1176.2L616.3 1173.3L617 1170.4L617.7 1167.4L618.4 1164.5L619.1 1161.6L619.8 1158.7L620.6 1155.7L621.3 1152.8L622 1149.9L622.8 1147L623.5 1144L624.2 1141.1L625 1138.2L625.7 1135.3L626.5 1132.3L627.2 1129.4L628 1126.5L628.8 1123.6L629.5 1120.7L630.3 1117.8L631.1 1114.9L631.8 1112L632.6 1109L633.4 1106.1L634.2 1103.2L635 1100.3L635.8 1097.4L636.6 1094.5L637.4 1091.6L638.2 1088.7L639 1085.8L639.8 1082.9L640.6 1080L641.5 1077.1L642.3 1074.2L643.1 1071.4L643.9 1068.5L644.8 1065.6L645.6 1062.7L646.5 1059.8L647.3 1056.9L648.2 1054L649 1051.2L649.9 1048.3L650.8 1045.4L651.6 1042.5L652.5 1039.7L653.4 1036.8L654.3 1033.9L655.2 1031.1L656 1028.2L656.9 1025.3L657.8 1022.5L658.8 1019.6L659.7 1016.7L660.6 1013.9L661.5 1011L662.4 1008.2L663.3 1005.3L664.3 1002.5L665.2 999.6L666.2 996.8L667.1 993.9L668.1 991.1L669 988.3L670 985.4L670.9 982.6L671.9 979.8L672.9 976.9L673.9 974.1L674.8 971.3L675.8 968.4L676.8 965.6L677.8 962.8L678.8 960L679.8 957.2L680.9 954.4L681.9 951.5L682.9 948.7L683.9 945.9L685 943.1L686 940.3L687.1 937.5L688.1 934.7L689.2 931.9L690.2 929.1L691.3 926.3L692.4 923.6L693.4 920.8L694.5 918L695.6 915.2L696.7 912.4L697.8 909.7L698.9 906.9L700 904.1L701.1 901.3L702.3 898.6L703.4 895.8L704.5 893.1L705.6 890.3L706.8 887.5L707.9 884.8L709.1 882L710.3 879.3L711.4 876.5L712.6 873.8L713.8 871.1L715 868.3L716.1 865.6L717.3 862.9L718.5 860.1L719.7 857.4L721 854.7L722.2 852L723.4 849.3L724.6 846.5L725.9 843.8L727.1 841.1L728.4 838.4L729.6 835.7L730.9 833L732.2 830.3L733.4 827.6L734.7 825L736 822.3L737.3 819.6L738.6 816.9L739.9 814.2L741.2 811.6L742.5 808.9L743.9 806.2L745.2 803.6L746.5 800.9L747.9 798.2L749.2 795.6L750.6 792.9L751.9 790.3L753.3 787.6L754.7 785L756.1 782.4L757.5 779.7L758.9 777.1L760.3 774.5L761.7 771.9L763.1 769.2L764.5 766.6L766 764L767.4 761.4L768.8 758.8L770.3 756.2L771.8 753.6L773.2 751L774.7 748.4L776.2 745.9L777.7 743.3L779.2 740.7L780.7 738.1L782.2 735.6L783.7 733L785.2 730.5L786.7 727.9L788.3 725.4L789.8 722.8L791.4 720.3L792.9 717.8L794.5 715.2L796.1 712.7L797.6 710.2L799.2 707.7L800.8 705.2L802.4 702.7L804 700.2L805.7 697.7L807.3 695.2L808.9 692.7L810.5 690.3L812.2 687.8L813.8 685.3L815.5 682.9L817.2 680.4L818.9 678L820.5 675.6L822.2 673.1L823.9 670.7L825.6 668.3L827.3 665.9L829.1 663.4L830.8 661L832.5 658.6L834.3 656.3L836 653.9L837.8 651.5L839.6 649.1L841.3 646.7L843.1 644.4L844.9 642L846.7 639.7L848.5 637.3L850.3 635L852.2 632.7L854 630.4L855.8 628.1L857.7 625.7L859.5 623.5L861.4 621.2L863.3 618.9L865.1 616.6L867 614.3L868.9 612.1L870.8 609.8L872.7 607.6L874.7 605.3L876.6 603.1L878.5 600.9L880.5 598.6L882.4 596.4L884.4 594.2L886.4 592L888.3 589.8L890.3 587.6L892.3 585.5L894.3 583.3L896.3 581.2L898.4 579L900.4 576.9L902.4 574.7L904.5 572.6L906.5 570.5L908.6 568.4L910.7 566.3L912.7 564.2L914.8 562.1L916.9 560L919 558L921.2 555.9L923.3 553.8L925.4 551.8L927.6 549.8L929.7 547.7L931.9 545.7L934 543.7L936.2 541.7L938.4 539.7L940.6 537.7L942.8 535.8L945 533.8L947.2 531.8L949.4 529.9L951.6 527.9L953.9 526L956.1 524.1L958.4 522.2L960.6 520.2L962.9 518.3L965.2 516.4L967.5 514.5L969.8 512.7L972.1 510.8L974.4 508.9L976.7 507L979 505.2L981.3 503.3L983.6 501.5L986 499.7L988.3 497.8L990.7 496L993 494.2L995.4 492.4L997.8 490.6L1000.2 488.8L1002.6 487L1004.9 485.2L1007.3 483.5L1009.8 481.7L1012.2 479.9L1014.6 478.2L1017 476.4L1019.4 474.7L1021.9 472.9L1024.3 471.2L1026.8 469.5L1029.2 467.8L1031.7 466.1L1034.1 464.4L1036.6 462.7L1039.1 461L1041.6 459.3L1044.1 457.6L1046.5 455.9L1049 454.2L1051.6 452.6L1054.1 450.9L1056.6 449.3L1059.1 447.6L1061.6 446L1064.1 444.3L1066.7 442.7L1069.2 441.1L1071.8 439.4L1074.3 437.8L1076.9 436.2L1079.4 434.6L1082 433L1084.5 431.4L1087.1 429.8L1089.7 428.2L1092.3 426.6L1094.9 425L1097.4 423.5L1100 421.9L1102.6 420.3L1105.2 418.8L1107.8 417.2L1110.4 415.7L1113.1 414.1L1115.7 412.6L1118.3 411L1120.9 409.5L1123.5 408L1126.2 406.4L1128.8 404.9L1131.4 403.4L1134.1 401.9L1136.7 400.4L1139.4 398.8L1142 397.3L1144.7 395.8L1147.3 394.3L1150 392.8L1152.6 391.4L1155.3 389.9L1158 388.4L1160.6 386.9L1163.3 385.4L1166 384L1168.7 382.5L1171.3 381L1174 379.5L1176.7 378.1L1179.4 376.6L1182.1 375.2L1184.8 373.7L1187.5 372.3L1190.2 370.8L1192.9 369.4L1195.6 367.9L1198.3 366.5L1201 365.1L1203.7 363.6L1206.4 362.2L1209.1 360.8L1211.8 359.3L1214.5 357.9L1217.2 356.5L1219.9 355.1L1222.7 353.6L1225.4 352.2L1228.1 350.8L1230.8 349.4L1233.5 348L1236.3 346.6L1239 345.2L1241.7 343.8L1244.4 342.4L1247.1 341L1249.9 339.6L1252.6 338.2L1255.3 336.8L1258.1 335.4L1260.8 334L1263.5 332.6L1266.2 331.2L1269 329.8L1271.7 328.4L1274.4 327L1277.2 325.6L1279.9 324.3L1282.6 322.9L1285.3 321.5L1288.1 320.1L1290.8 318.7L1293.5 317.3L1296.3 316L1299 314.6L1301.7 313.2L1304.4 311.8L1307.2 310.4L1309.9 309.1L1312.6 307.7L1315.3 306.3L1318.1 304.9L1320.8 303.5L1323.5 302.2L1326.2 300.8L1328.9 299.4L1331.7 298L1334.4 296.7L1337.1 295.3L1339.8 293.9L1342.5 292.5L1345.2 291.2L1347.9 289.8L1350.7 288.4L1353.4 287L1356.1 285.6L1358.8 284.3L1361.5 282.9L1364.2 281.5L1366.9 280.1L1369.6 278.7L1372.3 277.4L1375 276L1377.6 274.6L1380.3 273.2L1383 271.8L1385.7 270.4L1388.4 269L1391.1 267.6L1393.7 266.3L1396.4 264.9L1399.1 263.5L1401.8 262.1L1404.4 260.7L1407.1 259.3L1409.7 257.9L1412.4 256.5L1415 255.1L1417.7 253.7L1420.3 252.3L1423 250.9L1425.6 249.4L1428.3 248L1430.9 246.6L1433.5 245.2L1436.2 243.8L1438.8 242.4L1441.4 240.9L1444 239.5L1446.6 238.1L1449.3 236.7L1451.9 235.2L1454.5 233.8L1457.1 232.4L1459.6 230.9L1462.2 229.5L1464.8 228L1467.4 226.6L1470 225.1L1472.6 223.7L1475.1 222.2L1477.7 220.8L1480.2 219.3L1482.8 217.8L1485.4 216.4L1487.9 214.9L1490.4 213.4L1493 212L1495.5 210.5L1498 209L1500.6 207.5L1503.1 206L1505.6 204.5L1508.1 203L1510.6 201.5L1513.1 200L1515.6 198.5L1518.1 197L1520.5 195.5L1523 194L1525.5 192.5L1527.9 190.9L1530.4 189.4L1532.8 187.9L1535.3 186.3L1537.7 184.8L1540.2 183.2L1542.6 181.7L1545 180.1L1547.4 178.6L1549.8 177L1552.2 175.4L1554.6 173.9L1557 172.3L1559.4 170.7L1561.8 169.1" stroke="#0000ff" stroke-width="9"/>
<path d="M567 1604.9L568.1 1599.3L569.3 1593.6L570.4 1587.9L571.6 1582.2L572.2 1579.2M579.8 1541.4L580.8 1536.4L582 1530.7L583.2 1524.9L584.3 1519.2L585.1 1515.4M592.9 1477.7L594 1472.9L595.2 1467L596.4 1461.2L597.6 1455.4L598.4 1451.7M606.6 1413.9L607.8 1408.7L609.1 1402.9L610.4 1397.1L611.7 1391.2L612.4 1387.9M621.1 1350.2L622.5 1344.3L623.9 1338.5L624.6 1335.6L626 1329.7L627.3 1324.2M636.6 1286.4L637.6 1282.8L639.1 1277L640.6 1271.1L642.1 1265.3L643.4 1260.4M653.5 1222.7L654.7 1218.5L656.3 1212.7L658 1206.9L659.6 1201L660.9 1196.7M672 1158.9L673.4 1154.6L675.1 1148.8L676.9 1143.1L678.8 1137.3L680.1 1132.9M692.5 1095.2L693.8 1091.4L695.8 1085.7L697.8 1079.9L699.7 1074.3L701.5 1069.2M715.4 1031.4L717.4 1026.2L719.5 1020.5L721.7 1014.9L723.9 1009.3L725.5 1005.4M741 967.7L743.4 962.2L745.7 956.7L748.1 951.2L750.6 945.7L752.4 941.7M770 903.9L772 899.7L774.7 894.3L778.7 886.3L781.4 881L782.9 877.9M803 840.2L805.1 836.3L808 831.1L812.5 823.4L815.4 818.2L817.8 814.2M840.8 776.4L843.2 772.6L846.4 767.6L851.3 760.1L854.5 755.2L857.7 750.4M883.9 712.7L886.7 708.9L891.9 701.8L895.5 697L900.8 689.9L903.3 686.7M933.4 648.9L937.8 643.7L941.6 639.1L947.4 632.4L951.3 627.9L955.6 622.9M990.3 585.2L995.4 579.8L999.6 575.6L1005.8 569.2L1010 565L1015.9 559.2M1053.6 523.6L1057.6 520L1064.3 514L1068.8 510L1075.5 504.1L1079.6 500.4M1117.4 468.5L1121.3 465.4L1128.3 459.7L1133 455.9L1140 450.3L1143.4 447.6M1181.1 418.7L1185.5 415.5L1190.3 411.9L1197.6 406.5L1202.5 402.9L1207.1 399.5M1244.9 372.8L1249.4 369.7L1254.3 366.2L1261.8 361.1L1266.8 357.7L1270.9 355M1308.6 329.8L1312.2 327.5L1317.3 324.2L1324.9 319.2L1330 315.9L1334.6 313M1372.4 289L1376 286.7L1381.1 283.5L1388.8 278.8L1393.9 275.6L1398.4 272.8M1436.1 249.7L1440.2 247.2L1445.3 244.1L1453 239.4L1458.1 236.3L1462.1 233.9M1499.9 211.3L1504.3 208.6L1509.4 205.6L1517.1 201L1522.2 198L1525.9 195.7M1563.6 173.2L1565.3 172.2" stroke="#ff0000" stroke-width="9"/>
<path d="M564.1 1604.3L564.6 1601.5L565.2 1598.7L565.8 1595.8L566.3 1593L566.9 1590.2L567.5 1587.3L568.1 1584.5L568.6 1581.6L569.2 1578.8L569.8 1575.9L570.3 1573.1L570.9 1570.2L571.5 1567.4L572.1 1564.5L572.6 1561.6L573.2 1558.8L573.8 1555.9L574.4 1553.1L575 1550.2L575.5 1547.3L576.1 1544.5L576.7 1541.6L577.3 1538.7L577.9 1535.8L578.5 1533L579 1530.1L579.6 1527.2L580.2 1524.3L580.8 1521.4L581.4 1518.6L582 1515.7L582.6 1512.8L583.2 1509.9L583.8 1507L584.4 1504.1L585 1501.2L585.6 1498.3L586.2 1495.4L586.8 1492.5L587.4 1489.6L588 1486.7L588.6 1483.8L589.2 1480.9L589.8 1478L590.4 1475.1L591 1472.2L591.6 1469.3L592.2 1466.4L592.9 1463.5L593.5 1460.6L594.1 1457.7L594.7 1454.8L595.3 1451.9L595.9 1449L596.6 1446L597.2 1443.1L597.8 1440.2L598.5 1437.3L599.1 1434.4L599.7 1431.5L600.3 1428.5L601 1425.6L601.6 1422.7L602.3 1419.8L602.9 1416.9L603.5 1413.9L604.2 1411L604.8 1408.1L605.5 1405.2L606.1 1402.2L606.8 1399.3L607.4 1396.4L608.1 1393.5L608.7 1390.5L609.4 1387.6L610.1 1384.7L610.7 1381.8L611.4 1378.8L612.1 1375.9L612.7 1373L613.4 1370L614.1 1367.1L614.8 1364.2L615.4 1361.2L616.1 1358.3L616.8 1355.4L617.5 1352.5L618.2 1349.5L618.9 1346.6L619.6 1343.7L620.2 1340.7L620.9 1337.8L621.6 1334.9L622.3 1331.9L623 1329L623.8 1326.1L624.5 1323.1L625.2 1320.2L625.9 1317.3L626.6 1314.3L627.3 1311.4L628 1308.5L628.8 1305.5L629.5 1302.6L630.2 1299.7L631 1296.7L631.7 1293.8L632.4 1290.9L633.2 1287.9L633.9 1285L634.7 1282.1L635.4 1279.1L636.2 1276.2L636.9 1273.3L637.7 1270.4L638.4 1267.4L639.2 1264.5L640 1261.6L640.7 1258.6L641.5 1255.7L642.3 1252.8L643 1249.9L643.8 1246.9L644.6 1244L645.4 1241.1L646.2 1238.2L647 1235.2L647.8 1232.3L648.6 1229.4L649.4 1226.5L650.2 1223.6L651 1220.6L651.8 1217.7L652.6 1214.8L653.4 1211.9L654.2 1209L655.1 1206L655.9 1203.1L656.7 1200.2L657.6 1197.3L658.4 1194.4L659.2 1191.5L660.1 1188.6L660.9 1185.7L661.8 1182.8L662.6 1179.9L663.5 1176.9L664.4 1174L665.2 1171.1L666.1 1168.2L667 1165.3L667.8 1162.4L668.7 1159.5L669.6 1156.6L670.5 1153.7L671.4 1150.9L672.3 1148L673.2 1145.1L674.1 1142.2L675 1139.3L675.9 1136.4L676.8 1133.5L677.7 1130.6L678.6 1127.7L679.6 1124.9L680.5 1122L681.4 1119.1L682.4 1116.2L683.3 1113.3L684.3 1110.5L685.2 1107.6L686.2 1104.7L687.1 1101.9L688.1 1099L689 1096.1L690 1093.3L691 1090.4L692 1087.5L692.9 1084.7L693.9 1081.8L694.9 1079L695.9 1076.1L696.9 1073.3L697.9 1070.4L698.9 1067.6L699.9 1064.7L701 1061.9L702 1059L703 1056.2L704 1053.3L705.1 1050.5L706.1 1047.7L707.1 1044.8L708.2 1042L709.2 1039.2L710.3 1036.4L711.4 1033.5L712.4 1030.7L713.5 1027.9L714.6 1025.1L715.6 1022.3L716.7 1019.5L717.8 1016.6L718.9 1013.8L720 1011L721.1 1008.2L722.2 1005.4L723.3 1002.6L724.4 999.8L725.6 997L726.7 994.3L727.8 991.5L729 988.7L730.1 985.9L731.3 983.1L732.4 980.3L733.6 977.6L734.7 974.8L735.9 972L737.1 969.3L738.2 966.5L739.4 963.7L740.6 961L741.8 958.2L743 955.5L744.2 952.7L745.4 950L746.6 947.2L747.8 944.5L749.1 941.7L750.3 939L751.5 936.3L752.8 933.5L754 930.8L755.2 928.1L756.5 925.4L757.8 922.7L759 919.9L760.3 917.2L761.6 914.5L762.9 911.8L764.1 909.1L765.4 906.4L766.7 903.7L768 901L769.4 898.3L770.7 895.7L772 893L773.3 890.3L774.6 887.6L776 884.9L777.3 882.3L778.7 879.6L780 876.9L781.4 874.3L782.8 871.6L784.1 869L785.5 866.3L786.9 863.7L788.3 861L789.7 858.4L791.1 855.8L792.5 853.1L793.9 850.5L795.3 847.9L796.8 845.3L798.2 842.7L799.6 840L801.1 837.4L802.5 834.8L804 832.2L805.4 829.6L806.9 827L808.4 824.5L809.9 821.9L811.3 819.3L812.8 816.7L814.3 814.1L815.8 811.6L817.3 809L818.9 806.4L820.4 803.9L821.9 801.3L823.4 798.8L825 796.2L826.5 793.7L828.1 791.1L829.6 788.6L831.2 786.1L832.7 783.5L834.3 781L835.9 778.5L837.5 776L839.1 773.5L840.7 771L842.3 768.5L843.9 766L845.5 763.5L847.1 761L848.7 758.5L850.4 756L852 753.5L853.7 751L855.3 748.6L857 746.1L858.6 743.6L860.3 741.2L862 738.7L863.6 736.3L865.3 733.8L867 731.4L868.7 728.9L870.4 726.5L872.1 724.1L873.8 721.6L875.6 719.2L877.3 716.8L879 714.4L880.7 712L882.5 709.6L884.2 707.2L886 704.8L887.7 702.4L889.5 700L891.3 697.6L893.1 695.2L894.8 692.9L896.6 690.5L898.4 688.1L900.2 685.8L902 683.4L903.8 681.1L905.7 678.7L907.5 676.4L909.3 674L911.1 671.7L913 669.4L914.8 667L916.7 664.7L918.5 662.4L920.4 660.1L922.3 657.8L924.1 655.5L926 653.2L927.9 650.9L929.8 648.6L931.7 646.3L933.6 644L935.5 641.7L937.4 639.5L939.3 637.2L941.3 634.9L943.2 632.7L945.1 630.4L947.1 628.2L949 625.9L951 623.7L952.9 621.4L954.9 619.2L956.9 617L958.8 614.8L960.8 612.5L962.8 610.3L964.8 608.1L966.8 605.9L968.8 603.7L970.8 601.5L972.8 599.3L974.8 597.2L976.9 595L978.9 592.8L980.9 590.6L983 588.5L985 586.3L987.1 584.2L989.1 582L991.2 579.9L993.3 577.7L995.4 575.6L997.4 573.5L999.5 571.3L1001.6 569.2L1003.7 567.1L1005.8 565L1007.9 562.9L1010 560.8L1012.2 558.7L1014.3 556.6L1016.4 554.5L1018.6 552.4L1020.7 550.4L1022.8 548.3L1025 546.2L1027.2 544.1L1029.3 542.1L1031.5 540L1033.7 538L1035.8 535.9L1038 533.9L1040.2 531.9L1042.4 529.8L1044.6 527.8L1046.8 525.8L1049 523.8L1051.2 521.7L1053.4 519.7L1055.6 517.7L1057.9 515.7L1060.1 513.7L1062.3 511.7L1064.6 509.7L1066.8 507.8L1069.1 505.8L1071.3 503.8L1073.6 501.8L1075.8 499.9L1078.1 497.9L1080.4 495.9L1082.6 494L1084.9 492L1087.2 490.1L1089.5 488.2L1091.8 486.2L1094.1 484.3L1096.4 482.4L1098.7 480.4L1101 478.5L1103.3 476.6L1105.6 474.7L1107.9 472.8L1110.3 470.9L1112.6 469L1114.9 467.1L1117.2 465.2L1119.6 463.3L1121.9 461.4L1124.3 459.5L1126.6 457.6L1129 455.7L1131.3 453.9L1133.7 452L1136.1 450.1L1138.4 448.3L1140.8 446.4L1143.2 444.6L1145.6 442.7L1148 440.9L1150.3 439L1152.7 437.2L1155.1 435.4L1157.5 433.5L1159.9 431.7L1162.3 429.9L1164.7 428.1L1167.1 426.2L1169.6 424.4L1172 422.6L1174.4 420.8L1176.8 419L1179.2 417.2L1181.7 415.4L1184.1 413.6L1186.5 411.8L1189 410L1191.4 408.3L1193.9 406.5L1196.3 404.7L1198.8 402.9L1201.2 401.2L1203.7 399.4L1206.1 397.6L1208.6 395.9L1211 394.1L1213.5 392.4L1216 390.6L1218.4 388.9L1220.9 387.1L1223.4 385.4L1225.9 383.6L1228.4 381.9L1230.8 380.2L1233.3 378.4L1235.8 376.7L1238.3 375L1240.8 373.3L1243.3 371.5L1245.8 369.8L1248.3 368.1L1250.8 366.4L1253.3 364.7L1255.8 363L1258.3 361.3L1260.8 359.6L1263.3 357.9L1265.8 356.2L1268.4 354.5L1270.9 352.8L1273.4 351.1L1275.9 349.5L1278.4 347.8L1281 346.1L1283.5 344.4L1286 342.8L1288.5 341.1L1291.1 339.4L1293.6 337.8L1296.1 336.1L1298.7 334.4L1301.2 332.8L1303.8 331.1L1306.3 329.5L1308.8 327.8L1311.4 326.2L1313.9 324.6L1316.5 322.9L1319 321.3L1321.6 319.6L1324.1 318L1326.7 316.4L1329.2 314.7L1331.8 313.1L1334.4 311.5L1336.9 309.9L1339.5 308.2L1342 306.6L1344.6 305L1347.2 303.4L1349.7 301.8L1352.3 300.2L1354.8 298.6L1357.4 297L1360 295.4L1362.5 293.8L1365.1 292.2L1367.7 290.6L1370.2 289L1372.8 287.4L1375.4 285.8L1378 284.2L1380.5 282.6L1383.1 281L1385.7 279.4L1388.3 277.9L1390.8 276.3L1393.4 274.7L1396 273.1L1398.5 271.5L1401.1 270L1403.7 268.4L1406.3 266.8L1408.9 265.3L1411.4 263.7L1414 262.1L1416.6 260.6L1419.2 259L1421.7 257.5L1424.3 255.9L1426.9 254.3L1429.5 252.8L1432 251.2L1434.6 249.7L1437.2 248.1L1439.8 246.6L1442.4 245L1444.9 243.5L1447.5 242L1450.1 240.4L1452.7 238.9L1455.2 237.3L1457.8 235.8L1460.4 234.3L1463 232.7L1465.5 231.2L1468.1 229.7L1470.7 228.1L1473.3 226.6L1475.8 225.1L1478.4 223.5L1481 222L1483.6 220.5L1486.1 219L1488.7 217.4L1491.3 215.9L1493.8 214.4L1496.4 212.9L1499 211.4L1501.5 209.8L1504.1 208.3L1506.7 206.8L1509.2 205.3L1511.8 203.8L1514.3 202.3L1516.9 200.8L1519.5 199.3L1522 197.7L1524.6 196.2L1527.1 194.7L1529.7 193.2L1532.2 191.7L1534.8 190.2L1537.3 188.7L1539.9 187.2L1542.4 185.7L1545 184.2L1547.5 182.7L1550.1 181.2L1552.6 179.7L1555.2 178.2L1557.7 176.7L1560.2 175.2L1562.8 173.7L1565.3 172.2" stroke="#ff0000" stroke-width="9"/>
<path d="M484.8 1605L485.3 1602.1L485.8 1599.2L486.2 1596.3L486.7 1593.4L487.2 1590.5L487.6 1587.6L488.1 1584.7L488.5 1581.8L489 1578.9L489.5 1576L489.9 1573.1L490.4 1570.2L490.9 1567.3L491.3 1564.3L491.8 1561.4L492.3 1558.5L492.7 1555.6L493.2 1552.7L493.7 1549.8L494.2 1546.9L494.6 1543.9L495.1 1541L495.6 1538.1L496 1535.2L496.5 1532.3L497 1529.3L497.5 1526.4L497.9 1523.5L498.4 1520.6L498.9 1517.7L499.4 1514.7L499.8 1511.8L500.3 1508.9L500.8 1506L501.3 1503L501.8 1500.1L502.3 1497.2L502.7 1494.3L503.2 1491.3L503.7 1488.4L504.2 1485.5L504.7 1482.6L505.2 1479.6L505.7 1476.7L506.2 1473.8L506.7 1470.8L507.2 1467.9L507.6 1465L508.1 1462L508.6 1459.1L509.1 1456.2L509.6 1453.2L510.1 1450.3L510.6 1447.4L511.1 1444.5L511.7 1441.5L512.2 1438.6L512.7 1435.7L513.2 1432.7L513.7 1429.8L514.2 1426.8L514.7 1423.9L515.2 1421L515.8 1418L516.3 1415.1L516.8 1412.2L517.3 1409.2L517.8 1406.3L518.4 1403.4L518.9 1400.4L519.4 1397.5L519.9 1394.6L520.5 1391.6L521 1388.7L521.5 1385.8L522.1 1382.8L522.6 1379.9L523.2 1376.9L523.7 1374L524.3 1371.1L524.8 1368.1L525.3 1365.2L525.9 1362.3L526.4 1359.3L527 1356.4L527.6 1353.5L528.1 1350.5L528.7 1347.6L529.2 1344.7L529.8 1341.7L530.4 1338.8L530.9 1335.9L531.5 1332.9L532.1 1330L532.7 1327L533.2 1324.1L533.8 1321.2L534.4 1318.2L535 1315.3L535.6 1312.4L536.1 1309.4L536.7 1306.5L537.3 1303.6L537.9 1300.7L538.5 1297.7L539.1 1294.8L539.7 1291.9L540.3 1288.9L540.9 1286L541.5 1283.1L542.2 1280.1L542.8 1277.2L543.4 1274.3L544 1271.4L544.6 1268.4L545.3 1265.5L545.9 1262.6L546.5 1259.6L547.1 1256.7L547.8 1253.8L548.4 1250.9L549.1 1247.9L549.7 1245L550.4 1242.1L551 1239.2L551.7 1236.2L552.3 1233.3L553 1230.4L553.6 1227.5L554.3 1224.6L555 1221.6L555.6 1218.7L556.3 1215.8L557 1212.9L557.7 1210L558.3 1207.1L559 1204.1L559.7 1201.2L560.4 1198.3L561.1 1195.4L561.8 1192.5L562.5 1189.6L563.2 1186.7L563.9 1183.8L564.6 1180.8L565.3 1177.9L566 1175L566.8 1172.1L567.5 1169.2L568.2 1166.3L568.9 1163.4L569.7 1160.5L570.4 1157.6L571.1 1154.7L571.9 1151.8L572.6 1148.9L573.4 1146L574.1 1143.1L574.9 1140.2L575.6 1137.3L576.4 1134.4L577.2 1131.5L577.9 1128.6L578.7 1125.7L579.5 1122.8L580.3 1119.9L581.1 1117L581.9 1114.2L582.6 1111.3L583.4 1108.4L584.2 1105.5L585 1102.6L585.9 1099.7L586.7 1096.8L587.5 1094L588.3 1091.1L589.1 1088.2L590 1085.3L590.8 1082.4L591.6 1079.6L592.5 1076.7L593.3 1073.8L594.1 1071L595 1068.1L595.8 1065.2L596.7 1062.3L597.6 1059.5L598.4 1056.6L599.3 1053.7L600.2 1050.9L601.1 1048L601.9 1045.2L602.8 1042.3L603.7 1039.4L604.6 1036.6L605.5 1033.7L606.4 1030.9L607.3 1028L608.3 1025.2L609.2 1022.3L610.1 1019.5L611 1016.6L611.9 1013.8L612.9 1010.9L613.8 1008.1L614.8 1005.3L615.7 1002.4L616.7 999.6L617.6 996.7L618.6 993.9L619.6 991.1L620.5 988.2L621.5 985.4L622.5 982.6L623.5 979.8L624.5 976.9L625.5 974.1L626.5 971.3L627.5 968.5L628.5 965.6L629.5 962.8L630.5 960L631.5 957.2L632.5 954.4L633.6 951.6L634.6 948.8L635.7 946L636.7 943.2L637.8 940.3L638.8 937.5L639.9 934.7L641 931.9L642 929.2L643.1 926.4L644.2 923.6L645.3 920.8L646.4 918L647.5 915.2L648.6 912.4L649.7 909.6L650.8 906.8L651.9 904.1L653 901.3L654.2 898.5L655.3 895.7L656.4 893L657.6 890.2L658.7 887.4L659.9 884.7L661.1 881.9L662.2 879.1L663.4 876.4L664.6 873.6L665.8 870.9L666.9 868.1L668.1 865.3L669.3 862.6L670.5 859.8L671.8 857.1L673 854.4L674.2 851.6L675.4 848.9L676.7 846.1L677.9 843.4L679.1 840.7L680.4 837.9L681.6 835.2L682.9 832.5L684.2 829.8L685.4 827L686.7 824.3L688 821.6L689.3 818.9L690.6 816.2L691.9 813.5L693.2 810.8L694.5 808L695.8 805.3L697.2 802.6L698.5 799.9L699.8 797.2L701.2 794.6L702.5 791.9L703.9 789.2L705.3 786.5L706.6 783.8L708 781.1L709.4 778.5L710.8 775.8L712.2 773.1L713.6 770.5L715 767.8L716.4 765.2L717.8 762.5L719.3 759.9L720.7 757.2L722.1 754.6L723.6 751.9L725 749.3L726.5 746.7L728 744L729.4 741.4L730.9 738.8L732.4 736.2L733.9 733.6L735.4 731L736.9 728.4L738.4 725.8L739.9 723.2L741.5 720.6L743 718L744.5 715.5L746.1 712.9L747.6 710.3L749.2 707.8L750.8 705.2L752.4 702.7L753.9 700.1L755.5 697.6L757.1 695L758.7 692.5L760.4 690L762 687.5L763.6 685L765.2 682.5L766.9 680L768.5 677.5L770.2 675L771.9 672.5L773.5 670L775.2 667.5L776.9 665.1L778.6 662.6L780.3 660.2L782 657.7L783.7 655.3L785.5 652.9L787.2 650.4L788.9 648L790.7 645.6L792.4 643.2L794.2 640.8L796 638.4L797.8 636L799.6 633.6L801.4 631.3L803.2 628.9L805 626.6L806.8 624.2L808.6 621.9L810.5 619.5L812.3 617.2L814.2 614.9L816 612.6L817.9 610.3L819.8 608L821.7 605.7L823.6 603.4L825.5 601.1L827.4 598.9L829.3 596.6L831.2 594.4L833.2 592.1L835.1 589.9L837.1 587.7L839 585.5L841 583.3L843 581.1L845 578.9L847 576.7L849 574.5L851 572.4L853 570.2L855 568.1L857.1 565.9L859.1 563.8L861.2 561.7L863.3 559.6L865.3 557.5L867.4 555.4L869.5 553.3L871.6 551.2L873.7 549.2L875.9 547.1L878 545.1L880.1 543.1L882.3 541L884.4 539L886.6 537L888.8 535L890.9 533L893.1 531.1L895.3 529.1L897.5 527.1L899.8 525.2L902 523.2L904.2 521.3L906.5 519.4L908.7 517.5L911 515.6L913.2 513.7L915.5 511.8L917.8 509.9L920.1 508L922.3 506.1L924.7 504.3L927 502.4L929.3 500.6L931.6 498.8L933.9 496.9L936.3 495.1L938.6 493.3L941 491.5L943.3 489.7L945.7 487.9L948.1 486.1L950.5 484.4L952.8 482.6L955.2 480.8L957.6 479.1L960.1 477.4L962.5 475.6L964.9 473.9L967.3 472.2L969.8 470.5L972.2 468.8L974.6 467.1L977.1 465.4L979.6 463.7L982 462L984.5 460.3L987 458.7L989.5 457L992 455.4L994.5 453.7L997 452.1L999.5 450.4L1002 448.8L1004.5 447.2L1007 445.6L1009.6 444L1012.1 442.4L1014.6 440.8L1017.2 439.2L1019.7 437.6L1022.3 436L1024.9 434.5L1027.4 432.9L1030 431.4L1032.6 429.8L1035.2 428.3L1037.8 426.7L1040.4 425.2L1042.9 423.7L1045.6 422.1L1048.2 420.6L1050.8 419.1L1053.4 417.6L1056 416.1L1058.6 414.6L1061.3 413.1L1063.9 411.6L1066.5 410.1L1069.2 408.7L1071.8 407.2L1074.5 405.7L1077.1 404.3L1079.8 402.8L1082.5 401.4L1085.1 399.9L1087.8 398.5L1090.5 397L1093.2 395.6L1095.8 394.2L1098.5 392.8L1101.2 391.3L1103.9 389.9L1106.6 388.5L1109.3 387.1L1112 385.7L1114.7 384.3L1117.4 382.9L1120.1 381.5L1122.9 380.1L1125.6 378.8L1128.3 377.4L1131 376L1133.8 374.6L1136.5 373.3L1139.2 371.9L1142 370.5L1144.7 369.2L1147.4 367.8L1150.2 366.5L1152.9 365.1L1155.7 363.8L1158.4 362.5L1161.2 361.1L1163.9 359.8L1166.7 358.5L1169.4 357.1L1172.2 355.8L1175 354.5L1177.7 353.2L1180.5 351.9L1183.3 350.5L1186 349.2L1188.8 347.9L1191.6 346.6L1194.4 345.3L1197.1 344L1199.9 342.7L1202.7 341.4L1205.5 340.1L1208.3 338.9L1211 337.6L1213.8 336.3L1216.6 335L1219.4 333.7L1222.2 332.4L1225 331.2L1227.8 329.9L1230.6 328.6L1233.4 327.3L1236.1 326.1L1238.9 324.8L1241.7 323.5L1244.5 322.3L1247.3 321L1250.1 319.8L1252.9 318.5L1255.7 317.2L1258.5 316L1261.3 314.7L1264.1 313.5L1266.9 312.2L1269.7 311L1272.5 309.7L1275.3 308.5L1278.1 307.2L1280.9 306L1283.7 304.7L1286.5 303.5L1289.3 302.2L1292 301L1294.8 299.7L1297.6 298.5L1300.4 297.2L1303.2 296L1306 294.8L1308.8 293.5L1311.6 292.3L1314.4 291L1317.2 289.8L1319.9 288.6L1322.7 287.3L1325.5 286.1L1328.3 284.8L1331.1 283.6L1333.9 282.3L1336.6 281.1L1339.4 279.9L1342.2 278.6L1345 277.4L1347.7 276.1L1350.5 274.9L1353.3 273.6L1356 272.4L1358.8 271.2L1361.6 269.9L1364.3 268.7L1367.1 267.4L1369.9 266.2L1372.6 264.9L1375.4 263.7L1378.1 262.4L1380.9 261.2L1383.6 259.9L1386.3 258.7L1389.1 257.4L1391.8 256.2L1394.6 254.9L1397.3 253.6L1400 252.4L1402.8 251.1L1405.5 249.8L1408.2 248.6L1410.9 247.3L1413.6 246L1416.4 244.8L1419.1 243.5L1421.8 242.2L1424.5 241L1427.2 239.7L1429.9 238.4L1432.6 237.1L1435.3 235.8L1437.9 234.5L1440.6 233.3L1443.3 232L1446 230.7L1448.6 229.4L1451.3 228.1L1454 226.8L1456.6 225.5L1459.3 224.2L1461.9 222.9L1464.6 221.6L1467.2 220.2L1469.9 218.9L1472.5 217.6L1475.1 216.3L1477.8 215L1480.4 213.6L1483 212.3L1485.6 211L1488.2 209.6L1490.8 208.3L1493.4 206.9L1496 205.6L1498.6 204.2L1501.2 202.9L1503.8 201.5L1506.4 200.2L1508.9 198.8L1511.5 197.4L1514 196.1L1516.6 194.7L1519.1 193.3L1521.7 191.9L1524.2 190.5L1526.8 189.1L1529.3 187.7L1531.8 186.3L1534.3 184.9L1536.8 183.5L1539.3 182.1L1541.8 180.7L1544.3 179.3L1546.8 177.9L1549.3 176.4L1551.8 175L1554.2 173.5L1556.7 172.1L1559.1 170.7L1561.6 169.2" stroke="#00ffff" stroke-width="9"/>
<path d="M334.5 686.5L334.6 689.5L334.7 692.5L334.7 695.5L334.8 698.5L334.9 701.6L335 704.6L335.1 707.6L335.2 710.6L335.3 713.6L335.4 716.6L335.4 719.6L335.5 722.6L335.6 725.7L335.7 728.7L335.8 731.7L335.9 734.7L336.1 737.7L336.2 740.7L336.3 743.7L336.4 746.7L336.5 749.7L336.6 752.7L336.7 755.7L336.8 758.7L336.9 761.7L337.1 764.7L337.2 767.7L337.3 770.7L337.4 773.7L337.5 776.7L337.7 779.7L337.8 782.7L337.9 785.7L338.1 788.7L338.2 791.7L338.3 794.7L338.4 797.7L338.6 800.7L338.7 803.7L338.8 806.7L339 809.7L339.1 812.7L339.3 815.7L339.4 818.7L339.5 821.7L339.7 824.7L339.8 827.7L340 830.7L340.1 833.6L340.2 836.6L340.4 839.6L340.5 842.6L340.7 845.6L340.8 848.6L341 851.6L341.1 854.6L341.3 857.6L341.4 860.6L341.6 863.6L341.7 866.6L341.9 869.6L342 872.6L342.2 875.6L342.3 878.6L342.5 881.6L342.6 884.6L342.8 887.6L342.9 890.6L343.1 893.6L343.3 896.7L343.4 899.7L343.6 902.7L343.7 905.7L343.9 908.7L344 911.7L344.2 914.7L344.3 917.7L344.5 920.7L344.7 923.7L344.8 926.7L345 929.7L345.1 932.8L345.3 935.8L345.5 938.8L345.6 941.8L345.8 944.8L346 947.8L346.1 950.8L346.3 953.8L346.5 956.9L346.6 959.9L346.8 962.9L347 965.9L347.1 968.9L347.3 971.9L347.5 974.9L347.7 977.9L347.8 980.9L348 983.9L348.2 987L348.4 990L348.6 993L348.8 996L349 999L349.1 1002L349.3 1005L349.5 1008L349.7 1011L349.9 1014L350.1 1017L350.3 1020L350.5 1023L350.8 1026L351 1029L351.2 1032L351.4 1035L351.6 1038L351.8 1041L352.1 1044L352.3 1047L352.5 1049.9L352.7 1052.9L353 1055.9L353.2 1058.9L353.5 1061.9L353.7 1064.9L354 1067.8L354.2 1070.8L354.5 1073.8L354.7 1076.8L355 1079.7L355.2 1082.7L355.5 1085.7L355.8 1088.6L356.1 1091.6L356.3 1094.6L356.6 1097.6L356.9 1100.5L357.2 1103.5L357.5 1106.5L357.8 1109.4L358.1 1112.4L358.4 1115.4L358.7 1118.4L359 1121.3L359.3 1124.3L359.7 1127.3L360 1130.3L360.3 1133.3L360.7 1136.2L361 1139.2L361.3 1142.2L361.7 1145.2L362 1148.2L362.4 1151.2L362.8 1154.2L363.1 1157.2L363.5 1160.3L363.9 1163.3L364.3 1166.3L364.7 1169.3L365.1 1172.4L365.5 1175.4L365.9 1178.5L366.3 1181.5L366.7 1184.6L367.2 1187.6L367.6 1190.7L368 1193.8L368.5 1196.9L368.9 1199.9L369.4 1203L369.9 1206.1L370.5 1209.1L371.2 1212L371.9 1214.9L372.8 1217.7L373.7 1220.4L374.8 1222.9L376 1225.4L377.4 1227.7L379 1229.9L380.8 1231.8L382.7 1232.7L384.8 1232.1L386.8 1230.3L388.4 1227.9L389.7 1225.2L390.8 1222.2L391.8 1219L392.6 1215.8L393.5 1212.6L394.3 1209.5L395.1 1206.4L395.9 1203.3L396.7 1200.3L397.5 1197.3L398.3 1194.3L399.1 1191.3L399.9 1188.4L400.7 1185.5L401.4 1182.6L402.1 1179.7L402.9 1176.8L403.6 1174L404.3 1171.1L405 1168.3L405.7 1165.4L406.3 1162.5L407 1159.7L407.6 1156.8L408.3 1153.9L408.9 1151L409.5 1148.1L410.1 1145.2L410.7 1142.3L411.3 1139.4L411.9 1136.4L412.4 1133.5L413 1130.6L413.5 1127.6L414.1 1124.7L414.7 1121.7L415.2 1118.8L415.8 1115.8L416.3 1112.8L416.9 1109.9L417.4 1106.9L418 1104L418.5 1101L419.1 1098L419.6 1095.1L420.2 1092.1L420.8 1089.1L421.4 1086.2L421.9 1083.2L422.5 1080.3L423.2 1077.3L423.8 1074.4L424.4 1071.4L425 1068.5L425.7 1065.5L426.4 1062.6L427 1059.7L427.7 1056.7L428.4 1053.8L429.2 1050.9L429.9 1048L430.6 1045.1L431.4 1042.2L432.1 1039.3L432.9 1036.3L433.7 1033.5L434.5 1030.6L435.3 1027.7L436.1 1024.8L436.9 1021.9L437.7 1019L438.5 1016.1L439.4 1013.2L440.2 1010.4L441.1 1007.5L441.9 1004.6L442.8 1001.7L443.6 998.9L444.5 996L445.4 993.1L446.3 990.3L447.2 987.4L448.1 984.5L448.9 981.7L449.8 978.8L450.7 976L451.6 973.1L452.6 970.2L453.5 967.4L454.4 964.5L455.3 961.7L456.2 958.8L457.1 955.9L458 953.1L458.9 950.2L459.8 947.4L460.8 944.5L461.7 941.7L462.6 938.8L463.5 935.9L464.4 933.1L465.3 930.2L466.2 927.3L467.1 924.5L468 921.6L468.9 918.7L469.8 915.9L470.7 913L471.5 910.1L472.4 907.2L473.3 904.4L474.1 901.5L475 898.6L475.9 895.7L476.7 892.8L477.5 889.9L478.4 887.1L479.2 884.2L480 881.3L480.9 878.4L481.7 875.5L482.5 872.6L483.3 869.7L484.2 866.8L485 863.9L485.8 861L486.7 858.1L487.5 855.2L488.4 852.3L489.2 849.5L490.1 846.6L491 843.7L491.9 840.8L492.8 838L493.7 835.1L494.7 832.3L495.6 829.4L496.6 826.6L497.6 823.7L498.6 820.9L499.6 818.1L500.7 815.3L501.8 812.5L502.9 809.7L504 806.9L505.1 804.2L506.3 801.4L507.5 798.6L508.8 795.9L510 793.2L511.3 790.5L512.6 787.8L514 785.1L515.3 782.4L516.7 779.7L518.1 777L519.5 774.3L520.9 771.7L522.3 769L523.7 766.4L525.2 763.7L526.6 761L528 758.4L529.4 755.7L530.9 753.1L532.3 750.4L533.7 747.8L535.1 745.1L536.6 742.5L538 739.8L539.4 737.2L540.9 734.5L542.3 731.9L543.7 729.3L545.2 726.6L546.6 724L548.1 721.4L549.5 718.7L551 716.1L552.4 713.5L553.9 710.9L555.3 708.3L556.8 705.6L558.3 703L559.7 700.4L561.2 697.8L562.7 695.2L564.2 692.6L565.7 690.1L567.2 687.5L568.7 684.9L570.3 682.3L571.8 679.8L573.4 677.2L574.9 674.7L576.5 672.1L578.1 669.6L579.7 667.1L581.3 664.6L582.9 662L584.6 659.6L586.2 657.1L587.9 654.6L589.6 652.1L591.3 649.7L593 647.2L594.8 644.8L596.6 642.4L598.3 640L600.2 637.6L602 635.2L603.9 632.9L605.7 630.5L607.6 628.2L609.6 625.9L611.5 623.5L613.5 621.2L615.4 619L617.4 616.7L619.4 614.4L621.5 612.2L623.5 610L625.6 607.7L627.6 605.5L629.7 603.3L631.8 601.2L633.9 599L636 596.8L638.2 594.7L640.3 592.6L642.5 590.4L644.6 588.3L646.8 586.2L649 584.2L651.2 582.1L653.4 580L655.6 578L657.8 575.9L660 573.9L662.3 571.9L664.5 569.9L666.8 567.9L669 565.9L671.3 564L673.6 562L675.9 560L678.2 558.1L680.5 556.2L682.8 554.3L685.1 552.4L687.5 550.5L689.8 548.6L692.2 546.7L694.5 544.9L696.9 543L699.3 541.2L701.6 539.3L704 537.5L706.4 535.7L708.8 533.9L711.2 532.1L713.7 530.3L716.1 528.5L718.5 526.8L720.9 525L723.4 523.3L725.8 521.5L728.3 519.8L730.8 518.1L733.2 516.4L735.7 514.7L738.2 513L740.7 511.3L743.1 509.6L745.6 508L748.1 506.3L750.6 504.7L753.2 503L755.7 501.4L758.2 499.8L760.7 498.2L763.3 496.6L765.8 495L768.3 493.4L770.9 491.8L773.4 490.2L776 488.7L778.6 487.1L781.1 485.6L783.7 484L786.3 482.5L788.9 481L791.4 479.4L794 477.9L796.6 476.4L799.2 474.9L801.8 473.4L804.4 472L807.1 470.5L809.7 469L812.3 467.6L814.9 466.1L817.5 464.7L820.2 463.2L822.8 461.8L825.5 460.4L828.1 459L830.8 457.5L833.4 456.1L836.1 454.7L838.7 453.4L841.4 452L844.1 450.6L846.7 449.2L849.4 447.9L852.1 446.5L854.8 445.1L857.5 443.8L860.1 442.5L862.8 441.1L865.5 439.8L868.2 438.5L870.9 437.2L873.6 435.8L876.4 434.5L879.1 433.2L881.8 431.9L884.5 430.6L887.2 429.4L889.9 428.1L892.7 426.8L895.4 425.5L898.1 424.3L900.9 423L903.6 421.8L906.4 420.5L909.1 419.3L911.8 418L914.6 416.8L917.3 415.6L920.1 414.4L922.8 413.1L925.6 411.9L928.4 410.7L931.1 409.5L933.9 408.3L936.7 407.1L939.4 405.9L942.2 404.7L945 403.6L947.7 402.4L950.5 401.2L953.3 400L956.1 398.9L958.9 397.7L961.6 396.5L964.4 395.4L967.2 394.2L970 393.1L972.8 391.9L975.6 390.8L978.4 389.7L981.2 388.5L984 387.4L986.8 386.3L989.6 385.1L992.3 384L995.1 382.9L997.9 381.8L1000.8 380.7L1003.6 379.6L1006.4 378.5L1009.2 377.4L1012 376.3L1014.8 375.2L1017.6 374.1L1020.4 373L1023.2 371.9L1026 370.8L1028.8 369.7L1031.6 368.6L1034.4 367.5L1037.2 366.5L1040.1 365.4L1042.9 364.3L1045.7 363.2L1048.5 362.2L1051.3 361.1L1054.1 360L1056.9 359L1059.7 357.9L1062.5 356.8L1065.4 355.8L1068.2 354.7L1071 353.7L1073.8 352.6L1076.6 351.6L1079.4 350.5L1082.2 349.5L1085.1 348.4L1087.9 347.4L1090.7 346.3L1093.5 345.3L1096.3 344.2L1099.1 343.2L1102 342.2L1104.8 341.1L1107.6 340.1L1110.4 339.1L1113.2 338L1116 337L1118.9 336L1121.7 334.9L1124.5 333.9L1127.3 332.9L1130.1 331.9L1133 330.8L1135.8 329.8L1138.6 328.8L1141.4 327.8L1144.2 326.8L1147.1 325.7L1149.9 324.7L1152.7 323.7L1155.5 322.7L1158.4 321.7L1161.2 320.7L1164 319.6L1166.8 318.6L1169.7 317.6L1172.5 316.6L1175.3 315.6L1178.1 314.6L1181 313.6L1183.8 312.6L1186.6 311.6L1189.4 310.6L1192.3 309.5L1195.1 308.5L1197.9 307.5L1200.7 306.5L1203.6 305.5L1206.4 304.5L1209.2 303.5L1212 302.5L1214.9 301.5L1217.7 300.5L1220.5 299.5L1223.4 298.5L1226.2 297.5L1229 296.5L1231.8 295.5L1234.7 294.5L1237.5 293.5L1240.3 292.5L1243.2 291.5L1246 290.5L1248.8 289.5L1251.7 288.5L1254.5 287.5L1257.3 286.5L1260.2 285.5L1263 284.5L1265.8 283.5L1268.7 282.5L1271.5 281.5L1274.3 280.5L1277.2 279.5L1280 278.4L1282.8 277.4L1285.7 276.4L1288.5 275.4L1291.3 274.4L1294.2 273.4L1297 272.4L1299.8 271.4L1302.7 270.4L1305.5 269.4L1308.3 268.4L1311.2 267.3L1314 266.3L1316.8 265.3L1319.7 264.3L1322.5 263.3L1325.3 262.3L1328.2 261.3L1331 260.2L1333.8 259.2L1336.6 258.2L1339.5 257.2L1342.3 256.1L1345.1 255.1L1348 254.1L1350.8 253.1L1353.6 252L1356.4 251L1359.3 250L1362.1 248.9L1364.9 247.9L1367.8 246.9L1370.6 245.8L1373.4 244.8L1376.2 243.7L1379 242.7L1381.9 241.6L1384.7 240.6L1387.5 239.6L1390.3 238.5L1393.1 237.4L1396 236.4L1398.8 235.3L1401.6 234.3L1404.4 233.2L1407.2 232.2L1410 231.1L1412.9 230L1415.7 228.9L1418.5 227.9L1421.3 226.8L1424.1 225.7L1426.9 224.6L1429.7 223.6L1432.5 222.5L1435.3 221.4L1438.1 220.3L1440.9 219.2L1443.7 218.1L1446.5 217L1449.3 215.9L1452.1 214.8L1454.9 213.7L1457.7 212.6L1460.5 211.5L1463.3 210.4L1466.1 209.3L1468.9 208.2L1471.7 207L1474.5 205.9L1477.3 204.8L1480.1 203.7L1482.8 202.5L1485.6 201.4L1488.4 200.2L1491.2 199.1L1494 198L1496.8 196.8L1499.5 195.6L1502.3 194.5L1505.1 193.3L1507.8 192.2L1510.6 191L1513.4 189.8L1516.2 188.7L1518.9 187.5L1521.7 186.3L1524.4 185.1L1527.2 183.9L1530 182.7L1532.7 181.5L1535.5 180.3L1538.2 179.1L1541 177.9L1543.7 176.7L1546.5 175.5L1549.2 174.3L1552 173.1L1554.7 171.8L1557.5 170.6L1560.2 169.4L1562.9 168.1" stroke="#ff00ff" stroke-width="9"/>
<path d="M369.9 1607.4L370.1 1604.3L370.4 1601.3L370.7 1598.3L371 1595.3L371.2 1592.3L371.5 1589.3L371.8 1586.3L372 1583.3L372.3 1580.2L372.6 1577.2L372.9 1574.2L373.1 1571.2L373.4 1568.2L373.7 1565.2L374 1562.2L374.2 1559.2L374.5 1556.2L374.8 1553.2L375.1 1550.2L375.3 1547.2L375.6 1544.1L375.9 1541.1L376.2 1538.1L376.5 1535.1L376.7 1532.1L377 1529.1L377.3 1526.1L377.6 1523.1L377.8 1520.1L378.1 1517.1L378.4 1514.1L378.7 1511.1L379 1508.1L379.3 1505.1L379.5 1502.1L379.8 1499.1L380.1 1496.1L380.4 1493.1L380.7 1490.1L381 1487.1L381.2 1484.1L381.5 1481.1L381.8 1478.1L382.1 1475.1L382.4 1472.1L382.7 1469.1L383 1466.1L383.3 1463.1L383.6 1460.1L383.9 1457.1L384.1 1454.1L384.4 1451.2L384.7 1448.2L385 1445.2L385.3 1442.2L385.6 1439.2L385.9 1436.2L386.2 1433.2L386.5 1430.2L386.8 1427.2L387.1 1424.2L387.4 1421.2L387.7 1418.2L388.1 1415.3L388.4 1412.3L388.7 1409.3L389 1406.3L389.3 1403.3L389.6 1400.3L389.9 1397.3L390.2 1394.3L390.5 1391.3L390.9 1388.4L391.2 1385.4L391.5 1382.4L391.8 1379.4L392.1 1376.4L392.5 1373.4L392.8 1370.4L393.1 1367.5L393.4 1364.5L393.8 1361.5L394.1 1358.5L394.4 1355.5L394.8 1352.5L395.1 1349.6L395.4 1346.6L395.8 1343.6L396.1 1340.6L396.4 1337.6L396.8 1334.7L397.1 1331.7L397.5 1328.7L397.8 1325.7L398.2 1322.7L398.5 1319.8L398.9 1316.8L399.2 1313.8L399.6 1310.8L399.9 1307.8L400.3 1304.9L400.6 1301.9L401 1298.9L401.4 1295.9L401.7 1292.9L402.1 1290L402.5 1287L402.8 1284L403.2 1281L403.6 1278.1L403.9 1275.1L404.3 1272.1L404.7 1269.1L405.1 1266.2L405.5 1263.2L405.8 1260.2L406.2 1257.3L406.6 1254.3L407 1251.3L407.4 1248.3L407.8 1245.4L408.2 1242.4L408.6 1239.4L409 1236.5L409.4 1233.5L409.8 1230.5L410.2 1227.5L410.6 1224.6L411 1221.6L411.4 1218.6L411.8 1215.7L412.3 1212.7L412.7 1209.7L413.1 1206.8L413.5 1203.8L414 1200.8L414.4 1197.9L414.8 1194.9L415.3 1191.9L415.7 1189L416.1 1186L416.6 1183L417 1180.1L417.5 1177.1L417.9 1174.1L418.3 1171.2L418.8 1168.2L419.3 1165.2L419.7 1162.3L420.2 1159.3L420.6 1156.3L421.1 1153.4L421.6 1150.4L422 1147.4L422.5 1144.5L423 1141.5L423.5 1138.6L423.9 1135.6L424.4 1132.6L424.9 1129.7L425.4 1126.7L425.9 1123.8L426.4 1120.8L426.9 1117.8L427.4 1114.9L427.9 1111.9L428.4 1109L428.9 1106L429.4 1103L429.9 1100.1L430.4 1097.1L431 1094.2L431.5 1091.2L432 1088.2L432.5 1085.3L433.1 1082.3L433.6 1079.4L434.1 1076.4L434.7 1073.5L435.2 1070.5L435.8 1067.5L436.3 1064.6L436.9 1061.6L437.4 1058.7L438 1055.7L438.5 1052.8L439.1 1049.8L439.7 1046.9L440.2 1043.9L440.8 1040.9L441.4 1038L442 1035L442.6 1032.1L443.1 1029.1L443.7 1026.2L444.3 1023.2L444.9 1020.3L445.5 1017.3L446.1 1014.4L446.7 1011.4L447.3 1008.5L448 1005.5L448.6 1002.6L449.2 999.6L449.8 996.7L450.4 993.7L451.1 990.7L451.7 987.8L452.3 984.8L453 981.9L453.6 978.9L454.3 976L454.9 973L455.6 970.1L456.2 967.1L456.9 964.2L457.6 961.3L458.2 958.3L458.9 955.4L459.6 952.4L460.3 949.5L461 946.5L461.7 943.6L462.4 940.6L463.1 937.7L463.8 934.8L464.5 931.8L465.2 928.9L465.9 925.9L466.6 923L467.4 920.1L468.1 917.1L468.9 914.2L469.6 911.3L470.4 908.3L471.1 905.4L471.9 902.5L472.6 899.6L473.4 896.7L474.2 893.7L475 890.8L475.8 887.9L476.6 885L477.4 882.1L478.2 879.2L479 876.3L479.8 873.4L480.7 870.5L481.5 867.6L482.3 864.7L483.2 861.8L484 858.9L484.9 856L485.8 853.1L486.7 850.2L487.5 847.3L488.4 844.5L489.3 841.6L490.2 838.7L491.1 835.8L492.1 833L493 830.1L493.9 827.3L494.9 824.4L495.8 821.6L496.8 818.7L497.7 815.9L498.7 813L499.7 810.2L500.7 807.3L501.7 804.5L502.7 801.7L503.7 798.9L504.7 796.1L505.8 793.2L506.8 790.4L507.9 787.6L508.9 784.8L510 782L511.1 779.2L512.2 776.4L513.2 773.7L514.3 770.9L515.5 768.1L516.6 765.3L517.7 762.6L518.9 759.8L520 757.1L521.2 754.3L522.3 751.6L523.5 748.8L524.7 746.1L525.9 743.4L527.1 740.6L528.3 737.9L529.6 735.2L530.8 732.5L532.1 729.8L533.3 727.1L534.6 724.4L535.9 721.7L537.2 719L538.5 716.4L539.8 713.7L541.1 711L542.4 708.4L543.8 705.7L545.2 703.1L546.5 700.4L547.9 697.8L549.3 695.2L550.7 692.5L552.1 689.9L553.5 687.3L555 684.7L556.4 682.1L557.9 679.5L559.4 677L560.9 674.4L562.4 671.8L563.9 669.2L565.4 666.7L566.9 664.1L568.5 661.6L570 659.1L571.6 656.5L573.2 654L574.8 651.5L576.4 649L578 646.5L579.7 644L581.3 641.5L583 639.1L584.6 636.6L586.3 634.1L588 631.7L589.8 629.2L591.5 626.8L593.2 624.4L595 622L596.8 619.6L598.5 617.1L600.3 614.8L602.1 612.4L604 610L605.8 607.6L607.7 605.3L609.5 602.9L611.4 600.6L613.3 598.2L615.2 595.9L617.1 593.6L619.1 591.3L621 589L623 586.7L624.9 584.4L626.9 582.1L628.9 579.9L630.9 577.6L632.9 575.4L635 573.1L637 570.9L639.1 568.7L641.1 566.5L643.2 564.3L645.3 562.1L647.4 559.9L649.5 557.7L651.6 555.6L653.7 553.4L655.9 551.3L658 549.2L660.2 547L662.4 544.9L664.6 542.8L666.8 540.8L669 538.7L671.2 536.6L673.4 534.6L675.6 532.5L677.9 530.5L680.1 528.5L682.4 526.5L684.7 524.5L687 522.5L689.3 520.5L691.6 518.5L693.9 516.6L696.2 514.6L698.5 512.7L700.9 510.8L703.2 508.9L705.6 507L707.9 505.1L710.3 503.2L712.7 501.4L715.1 499.5L717.5 497.7L719.9 495.8L722.3 494L724.7 492.2L727.1 490.4L729.5 488.7L732 486.9L734.4 485.1L736.9 483.4L739.3 481.7L741.8 480L744.3 478.3L746.8 476.6L749.3 474.9L751.7 473.2L754.2 471.6L756.8 469.9L759.3 468.3L761.8 466.7L764.3 465L766.8 463.4L769.4 461.8L771.9 460.3L774.5 458.7L777 457.1L779.6 455.6L782.2 454L784.7 452.5L787.3 451L789.9 449.5L792.5 448L795.1 446.5L797.7 445L800.3 443.5L802.9 442L805.5 440.6L808.1 439.1L810.8 437.7L813.4 436.2L816 434.8L818.7 433.4L821.3 432L823.9 430.6L826.6 429.2L829.2 427.8L831.9 426.4L834.6 425L837.2 423.6L839.9 422.3L842.6 420.9L845.3 419.6L847.9 418.2L850.6 416.9L853.3 415.5L856 414.2L858.7 412.9L861.4 411.6L864.1 410.3L866.8 409L869.5 407.7L872.2 406.4L875 405.1L877.7 403.8L880.4 402.5L883.1 401.2L885.8 400L888.6 398.7L891.3 397.4L894 396.2L896.8 394.9L899.5 393.7L902.3 392.4L905 391.2L907.7 389.9L910.5 388.7L913.2 387.4L916 386.2L918.7 384.9L921.4 383.7L924.2 382.4L926.9 381.2L929.6 379.9L932.4 378.6L935.1 377.4L937.8 376.1L940.6 374.8L943.3 373.5L946 372.3L948.7 371L951.4 369.7L954.1 368.3L956.8 367L959.5 365.7L962.2 364.4L964.9 363L967.6 361.6L970.2 360.3L972.9 358.9L975.5 357.5L978.2 356.1L980.8 354.7L983.5 353.2L986.1 351.8L988.7 350.3L991.3 348.8L993.9 347.3L996.5 345.8L999 344.2L1001.6 342.7L1004.2 341.1L1006.7 339.5L1009.2 337.9L1011.7 336.3L1014.2 334.6L1016.7 332.9L1019.2 331.2L1021.7 329.5L1024.1 327.8L1026.6 326L1029 324.2L1031.4 322.4L1033.8 320.6L1036.2 318.7L1038.5 316.8L1040.9 314.9L1043.2 312.9L1045.5 310.9L1047.8 308.9L1050.1 306.9L1052.4 304.9L1054.6 302.8L1056.9 300.7L1059.1 298.6L1061.3 296.5L1063.6 294.4L1065.8 292.3L1068 290.1L1070.2 288L1072.4 285.8L1074.6 283.7L1076.8 281.5L1079 279.4L1081.2 277.3L1083.4 275.1L1085.6 273L1087.8 270.9L1090 268.8L1092.3 266.7L1094.5 264.6L1096.7 262.6L1099 260.5L1101.3 258.5L1103.5 256.5L1105.8 254.6L1108.1 252.6L1110.4 250.7L1112.7 248.9L1115.1 247L1117.5 245.2L1119.8 243.5L1122.2 241.7L1124.7 240.1L1127.1 238.4L1129.6 236.8L1132.1 235.3L1134.6 233.8L1137.1 232.4L1139.7 231L1142.3 229.6L1144.9 228.4L1147.6 227.2L1150.3 226.2L1152.9 225.2L1155.6 224.4L1158.4 223.7L1161.1 223.1L1163.8 222.7L1166.6 222.5L1169.3 222.4L1172.1 222.5L1174.8 222.7L1177.6 223.1L1180.3 223.6L1183.1 224.3L1185.8 225.1L1188.5 226L1191.2 227.1L1193.9 228.3L1196.5 229.5L1199.2 230.9L1201.9 232.4L1204.5 233.9L1207.1 235.5L1209.8 237.2L1212.4 238.9L1215 240.6L1217.6 242.4L1220.3 244.2L1222.9 246L1225.5 247.8L1228.2 249.6L1230.8 251.3L1233.4 253L1236.1 254.7L1238.7 256.4L1241.4 257.9L1244.1 259.4L1246.8 260.9L1249.5 262.2L1252.2 263.4L1254.9 264.6L1257.7 265.6L1260.5 266.5L1263.2 267.2L1266 267.9L1268.8 268.5L1271.7 268.9L1274.5 269.3L1277.4 269.5L1280.2 269.7L1283.1 269.7L1286 269.7L1288.9 269.6L1291.8 269.4L1294.7 269.2L1297.6 268.8L1300.5 268.4L1303.5 267.9L1306.4 267.4L1309.3 266.7L1312.3 266.1L1315.2 265.3L1318.2 264.6L1321.1 263.7L1324.1 262.8L1327 261.9L1330 261L1332.9 260L1335.9 258.9L1338.8 257.8L1341.8 256.8L1344.7 255.6L1347.7 254.5L1350.6 253.3L1353.5 252.2L1356.4 251L1359.3 249.8L1362.2 248.6L1365.1 247.4L1368 246.2L1370.9 245L1373.8 243.8L1376.6 242.6L1379.5 241.5L1382.3 240.3L1385.2 239.1L1388 238L1390.8 236.8L1393.6 235.6L1396.4 234.5L1399.2 233.3L1402 232.2L1404.8 231.1L1407.5 229.9L1410.3 228.8L1413.1 227.6L1415.8 226.5L1418.6 225.4L1421.3 224.3L1424.1 223.1L1426.8 222L1429.6 220.9L1432.3 219.8L1435 218.7L1437.8 217.6L1440.5 216.5L1443.2 215.4L1446 214.3L1448.7 213.1L1451.4 212L1454.1 210.9L1456.9 209.8L1459.6 208.7L1462.3 207.6L1465 206.6L1467.7 205.5L1470.5 204.4L1473.2 203.3L1475.9 202.2L1478.7 201.1L1481.4 200L1484.1 198.9L1486.9 197.8L1489.6 196.7L1492.4 195.6L1495.1 194.5L1497.9 193.4L1500.6 192.3L1503.4 191.2L1506.2 190.1L1509 189L1511.7 187.9L1514.5 186.8L1517.3 185.7L1520.1 184.6L1522.9 183.5L1525.8 182.4L1528.6 181.3L1531.4 180.2L1534.3 179.1L1537.1 177.9L1540 176.8L1542.9 175.7L1545.7 174.6L1548.6 173.5L1551.5 172.3L1554.4 171.2L1557.4 170.1L1560.3 168.9L1563.2 167.8" stroke="#800000" stroke-width="9"/>
<path d="M1596 170.2L1599.1 170.4L1602.1 170.6L1605.2 170.9L1608.2 171.1L1611.2 171.3L1614.3 171.4L1617.3 171.6L1620.3 171.8L1623.4 171.9L1626.4 172.1L1629.5 172.2L1632.5 172.3L1635.5 172.4L1638.6 172.6L1641.6 172.7L1644.6 172.7L1647.7 172.8L1650.7 172.9L1653.8 173L1656.8 173L1659.8 173.1L1662.9 173.1L1665.9 173.2L1669 173.2L1672 173.2L1675 173.2L1678.1 173.2L1681.1 173.3L1684.2 173.2L1687.2 173.2L1690.2 173.2L1693.3 173.2L1696.3 173.2L1699.4 173.1L1702.4 173.1L1705.4 173.1L1708.5 173L1711.5 173L1714.6 172.9L1717.6 172.8L1720.6 172.8L1723.7 172.7L1726.7 172.6L1729.8 172.5L1732.8 172.4L1735.8 172.4L1738.9 172.3L1741.9 172.2L1745 172.1L1748 172L1751 171.9L1754.1 171.7L1757.1 171.6L1760.2 171.5L1763.2 171.4L1766.2 171.3L1769.3 171.2L1772.3 171L1775.4 170.9L1778.4 170.8L1781.4 170.6L1784.5 170.5L1787.5 170.4L1790.6 170.3L1793.6 170.1L1796.6 170L1799.7 169.8L1802.7 169.7L1805.8 169.6L1808.8 169.4L1811.8 169.3L1814.9 169.2L1817.9 169L1821 168.9L1824 168.7L1827 168.6L1830.1 168.5L1833.1 168.3L1836.2 168.2L1839.2 168.1L1842.2 167.9L1845.3 167.8L1848.3 167.7L1851.4 167.6L1854.4 167.4L1857.4 167.3L1860.5 167.2L1863.5 167.1L1866.5 167L1869.6 166.9L1872.6 166.7L1875.7 166.6L1878.7 166.5L1881.7 166.4L1884.8 166.3L1887.8 166.3L1890.8 166.2L1893.9 166.1L1896.9 166L1900 165.9L1903 165.9" stroke="#800000" stroke-width="8"/>
<path d="M340.4 673.2L342.3 667.4L344.3 661.5L345.3 658.6L347.5 652.8L349.6 647.2M367.1 609.5L369.2 605.7L372.2 600.4L376.7 592.6L379.9 587.4L382.4 583.5M409.9 545.7L413.4 541.5L419.2 534.7L423.2 530.2L429.3 523.6L433 519.7M470.7 484.8L475.3 481.1L482.3 475.5L487 471.8L494.2 466.4L496.7 464.7M534.4 439.6L539.1 436.8L544.2 433.8L552 429.4L557.3 426.5L560.4 424.8M598.2 406L602.8 403.9L608.2 401.5L613.7 399.1L619.2 396.7L624.2 394.7M661.9 380L666.8 378.2L672.5 376.2L678.2 374.2L683.9 372.3L687.9 370.9M725.7 358.9L730 357.5L735.8 355.8L741.6 354.1L747.5 352.4L751.7 351.2M789.4 340.7L794.2 339.4L800 337.8L805.9 336.2L811.7 334.7L815.4 333.7M853.2 323.8L858.4 322.5L864.3 321L870.1 319.5L875.9 318L879.2 317.2M916.9 307.7L922.6 306.3L928.4 304.9L931.3 304.2L937.1 302.8L942.9 301.4M980.7 292.4L983.8 291.6L989.6 290.3L995.4 288.9L1001.3 287.5L1006.7 286.3M1044.4 277.8L1048 277L1053.8 275.7L1059.7 274.4L1065.6 273.1L1070.4 272.1M1108.2 264L1112.5 263.1L1118.4 261.9L1124.3 260.7L1130.1 259.5L1134.2 258.7M1171.9 251.1L1177.3 250L1183.2 248.9L1186.2 248.3L1192.1 247.1L1197.9 246M1235.7 238.6L1239.4 237.9L1245.3 236.8L1251.3 235.6L1257.2 234.5L1261.7 233.6M1299.4 226.3L1304.6 225.3L1310.5 224.1L1316.4 223L1322.3 221.8L1325.4 221.2M1363.2 213.7L1366.7 213L1372.6 211.8L1378.5 210.6L1384.4 209.4L1389.2 208.4M1426.9 200.5L1431.5 199.5L1437.4 198.2L1443.3 196.9L1449.2 195.6L1452.9 194.8M1490.7 186.2L1496 184.9L1501.9 183.6L1507.7 182.2L1513.5 180.7L1516.7 180M1554.4 170.5L1557.1 169.8L1560 169L1562.9 168.3" stroke="#00ffff" stroke-width="9"/>
<path d="M341.2 705.5L342.4 702.6L344.6 697L348 688.6L350.3 683L351.8 679.5M370 641.8L372.8 636.7L375.7 631.4L380.3 623.6L383.4 618.4L385 615.8M411.6 578L414.6 574.3L420.4 567.4L424.4 562.9L430.4 556.2L434.4 552M472 517.4L476.6 513.6L481.4 509.9L488.5 504.4L493.4 500.9L498 497.6M535.7 473.1L538.6 471.5L543.8 468.5L551.6 464.1L556.8 461.2L561.7 458.7M599.5 440.4L602.5 439L608 436.6L616.2 433.1L621.8 430.8L625.5 429.3M663.2 414.8L666.6 413.6L672.3 411.6L677.9 409.7L683.6 407.7L689.2 405.8M727 393.7L732.4 392.1L738.2 390.3L744 388.6L749.8 386.9L753 385.9M790.7 375L796.2 373.4L802 371.7L807.8 370.1L813.6 368.4L816.7 367.6M854.5 357L860.1 355.4L865.9 353.8L871.7 352.2L877.5 350.6L880.5 349.7M918.2 339.4L923.9 337.8L929.7 336.2L935.5 334.6L941.3 333.1L944.2 332.3M982 322.1L987.7 320.5L993.5 319L996.4 318.2L1002.2 316.7L1008 315.1M1045.7 305.1L1051.5 303.5L1057.3 302L1060.2 301.2L1066 299.7L1071.7 298.2M1109.5 288.3L1112.4 287.5L1118.2 286L1124 284.5L1129.8 282.9L1135.5 281.5M1173.2 271.6L1176.3 270.8L1182.1 269.3L1187.9 267.8L1193.7 266.3L1199.2 264.8M1237 255L1240.1 254.2L1245.9 252.6L1251.7 251.1L1257.6 249.6L1263 248.2M1300.7 238.4L1304 237.5L1309.9 236L1315.7 234.5L1321.5 232.9L1326.7 231.6M1364.5 221.7L1368 220.7L1373.8 219.2L1379.7 217.7L1385.5 216.2L1390.5 214.8M1428.2 204.9L1432.1 203.8L1437.9 202.3L1443.7 200.7L1449.5 199.2L1454.2 197.9M1492 187.8L1496.2 186.7L1502 185.1L1507.9 183.6L1513.7 182L1518 180.8M1555.7 170.5L1557.5 170.1L1560.4 169.3L1563.3 168.5" stroke="#0000ff" stroke-width="9"/>
<path d="M334.1 659L334.9 656.1L335.6 653.1L336.4 650.2L337.1 647.3L337.9 644.4L338.7 641.5L339.4 638.6L340.2 635.7L341 632.8L341.8 629.8L342.6 626.9L343.4 624L344.3 621.2L345.1 618.3L345.9 615.4L346.8 612.5L347.6 609.6L348.4 606.7L349.3 603.8L350.1 600.9L351 598L351.9 595.2L352.7 592.3L353.6 589.4L354.5 586.5L355.4 583.7L356.3 580.8L357.2 577.9L358.1 575L359 572.2L359.9 569.3L360.8 566.4L361.7 563.6L362.6 560.7L363.5 557.8L364.4 555L365.3 552.1L366.3 549.3L367.2 546.4L368.1 543.5L369.1 540.7L370 537.8L370.9 535L371.9 532.1L372.8 529.2L373.7 526.4L374.7 523.5L375.6 520.7L376.6 517.8L377.5 515L378.5 512.1L379.4 509.3L380.4 506.4L381.3 503.5L382.3 500.7L383.2 497.8L384.2 495L385.1 492.1L386.1 489.3L387 486.4L388 483.6L388.9 480.7L389.9 477.8L390.8 475L391.7 472.1L392.7 469.3L393.6 466.4L394.6 463.6L395.5 460.7L396.4 457.8L397.4 455L398.3 452.1L399.2 449.3L400.2 446.4L401.1 443.5L402 440.7L403 437.8L403.9 434.9L404.8 432.1L405.7 429.2L406.6 426.3L407.5 423.5L408.4 420.6L409.3 417.7L410.2 414.8L411.1 412L412 409.1L412.9 406.2L413.8 403.3L414.6 400.4L415.5 397.6L416.4 394.7L417.2 391.8L418.1 388.9L418.9 386L419.8 383.1L420.6 380.2L421.5 377.3L422.3 374.4L423.1 371.5L423.9 368.6L424.8 365.7L425.6 362.8L426.4 359.9L427.2 357L428 354.1L428.8 351.2L429.6 348.3L430.4 345.4L431.2 342.5L432 339.5L432.8 336.6L433.6 333.7L434.4 330.8L435.1 327.9L435.9 325L436.7 322.1L437.5 319.2L438.3 316.3L439.1 313.3L439.9 310.4L440.7 307.5L441.5 304.6L442.4 301.7L443.2 298.8L444 295.9L444.8 293L445.6 290.1L446.5 287.2L447.3 284.3L448.1 281.4L449 278.6L449.8 275.7L450.7 272.8L451.6 269.9L452.4 267L453.3 264.2L454.2 261.3L455.1 258.4L456 255.5L456.9 252.7L457.9 249.8L458.8 247L459.8 244.1L460.7 241.3L461.7 238.4L462.7 235.6L463.6 232.8L464.6 229.9L465.7 227.1L466.7 224.3L467.7 221.5L468.8 218.7L469.8 215.8L470.9 213L472 210.2L473.1 207.5L474.2 204.7L475.4 201.9L476.5 199.1L477.7 196.4L478.8 193.6L480 190.8L481.3 188.1L482.5 185.3L483.7 182.6L485 179.9L486.3 177.2L487.6 174.4L488.9 171.7L490.3 169L491.6 166.3L493 163.7L494.4 161L495.8 158.3L497.3 155.6L498.7 153L500.2 150.3L501.7 147.7L503.2 145.1L504.8 142.5L506.3 139.8L507.9 137.2L509.6 134.6L511.2 132.1L512.9 129.5L514.5 126.9L516.3 124.4L518 121.8L519.8 119.3L521.6 116.8L523.4 114.3L525.2 111.8L527.1 109.4L529 107L531 104.7L533 102.4L535 100.1L537 97.9L539.1 95.7L541.2 93.6L543.3 91.6L545.5 89.6L547.8 87.7L550 85.8L552.3 84L554.7 82.3L557.1 80.7L559.5 79.2L562 77.7L564.5 76.3L567.1 75.1L569.7 73.9L572.3 72.8L575 71.8L577.8 70.9L580.6 70.2L583.4 69.5L586.3 68.9L589.2 68.4L592.1 68L595.1 67.7L598.1 67.5L601.1 67.4L604.1 67.3L607.1 67.3L610.2 67.4L613.2 67.6L616.3 67.9L619.3 68.2L622.4 68.6L625.4 69L628.4 69.5L631.4 70.1L634.4 70.7L637.4 71.3L640.4 72L643.4 72.8L646.4 73.5L649.3 74.3L652.3 75.1L655.2 76L658.2 76.8L661.1 77.7L664 78.6L666.9 79.5L669.8 80.4L672.7 81.4L675.6 82.3L678.5 83.3L681.4 84.3L684.2 85.3L687.1 86.4L689.9 87.5L692.7 88.5L695.6 89.6L698.4 90.8L701.2 91.9L704 93L706.8 94.2L709.5 95.4L712.3 96.6L715.1 97.9L717.8 99.1L720.6 100.4L723.3 101.6L726 102.9L728.7 104.2L731.4 105.6L734.1 106.9L736.8 108.3L739.5 109.7L742.1 111L744.8 112.5L747.4 113.9L750.1 115.3L752.7 116.8L755.3 118.3L757.9 119.7L760.5 121.2L763.1 122.8L765.7 124.3L768.3 125.8L770.8 127.4L773.4 129L775.9 130.6L778.4 132.2L781 133.8L783.5 135.4L786 137.1L788.5 138.7L791 140.4L793.4 142.1L795.9 143.7L798.4 145.4L800.8 147.2L803.3 148.9L805.7 150.6L808.1 152.3L810.6 154.1L813 155.8L815.4 157.6L817.8 159.4L820.3 161.1L822.7 162.9L825.1 164.7L827.5 166.5L829.9 168.3L832.3 170.1L834.7 171.9L837.1 173.7L839.4 175.5L841.8 177.3L844.2 179.2L846.6 181L849 182.8L851.4 184.6L853.8 186.4L856.2 188.3L858.6 190.1L861 191.9L863.4 193.7L865.7 195.5L868.1 197.4L870.6 199.2L873 201L875.4 202.8L877.8 204.6L880.2 206.4L882.6 208.2L885 210L887.5 211.8L889.9 213.6L892.4 215.3L894.8 217.1L897.3 218.9L899.7 220.6L902.2 222.4L904.7 224.1L907.2 225.8L909.7 227.5L912.2 229.2L914.7 230.9L917.2 232.6L919.7 234.3L922.3 236L924.8 237.6L927.4 239.3L930 240.9L932.5 242.5L935.1 244.1L937.7 245.7L940.3 247.2L942.9 248.8L945.6 250.3L948.2 251.8L950.9 253.2L953.5 254.7L956.2 256.1L958.9 257.5L961.5 258.9L964.2 260.3L966.9 261.6L969.7 262.9L972.4 264.2L975.1 265.4L977.9 266.6L980.6 267.8L983.4 268.9L986.1 270L988.9 271.1L991.7 272.2L994.5 273.2L997.3 274.1L1000.2 275.1L1003 276L1005.8 276.8L1008.7 277.6L1011.5 278.4L1014.4 279.1L1017.3 279.8L1020.2 280.5L1023.1 281L1026 281.6L1028.9 282.1L1031.8 282.6L1034.8 283L1037.7 283.3L1040.7 283.6L1043.7 283.9L1046.6 284.1L1049.6 284.3L1052.6 284.4L1055.6 284.4L1058.6 284.5L1061.6 284.4L1064.7 284.4L1067.7 284.3L1070.7 284.2L1073.7 284L1076.8 283.8L1079.8 283.5L1082.9 283.3L1085.9 283L1088.9 282.7L1092 282.3L1095 282L1098.1 281.6L1101.1 281.1L1104.1 280.7L1107.1 280.3L1110.2 279.8L1113.2 279.3L1116.2 278.8L1119.2 278.3L1122.2 277.8L1125.2 277.3L1128.2 276.8L1131.2 276.3L1134.1 275.7L1137.1 275.2L1140.1 274.6L1143 274L1146 273.5L1148.9 272.9L1151.9 272.3L1154.8 271.7L1157.8 271.1L1160.7 270.5L1163.6 269.9L1166.6 269.3L1169.5 268.6L1172.4 268L1175.3 267.4L1178.3 266.7L1181.2 266.1L1184.1 265.5L1187 264.8L1190 264.1L1192.9 263.5L1195.8 262.8L1198.7 262.2L1201.6 261.5L1204.6 260.8L1207.5 260.2L1210.4 259.5L1213.3 258.8L1216.2 258.1L1219.1 257.4L1222.1 256.8L1225 256.1L1227.9 255.4L1230.8 254.7L1233.7 254L1236.7 253.3L1239.6 252.6L1242.5 251.9L1245.4 251.2L1248.3 250.5L1251.3 249.7L1254.2 249L1257.1 248.3L1260 247.6L1262.9 246.9L1265.9 246.2L1268.8 245.4L1271.7 244.7L1274.6 244L1277.5 243.2L1280.4 242.5L1283.4 241.8L1286.3 241L1289.2 240.3L1292.1 239.6L1295 238.8L1298 238.1L1300.9 237.3L1303.8 236.6L1306.7 235.8L1309.6 235.1L1312.5 234.3L1315.5 233.6L1318.4 232.8L1321.3 232.1L1324.2 231.3L1327.1 230.6L1330 229.8L1333 229L1335.9 228.3L1338.8 227.5L1341.7 226.7L1344.6 226L1347.5 225.2L1350.5 224.5L1353.4 223.7L1356.3 222.9L1359.2 222.1L1362.1 221.4L1365 220.6L1368 219.8L1370.9 219.1L1373.8 218.3L1376.7 217.5L1379.6 216.7L1382.5 216L1385.4 215.2L1388.4 214.4L1391.3 213.6L1394.2 212.8L1397.1 212.1L1400 211.3L1402.9 210.5L1405.8 209.7L1408.8 208.9L1411.7 208.2L1414.6 207.4L1417.5 206.6L1420.4 205.8L1423.3 205L1426.2 204.3L1429.2 203.5L1432.1 202.7L1435 201.9L1437.9 201.1L1440.8 200.4L1443.7 199.6L1446.6 198.8L1449.5 198L1452.4 197.2L1455.4 196.5L1458.3 195.7L1461.2 194.9L1464.1 194.1L1467 193.4L1469.9 192.6L1472.8 191.8L1475.7 191L1478.6 190.3L1481.6 189.5L1484.5 188.7L1487.4 187.9L1490.3 187.2L1493.2 186.4L1496.1 185.6L1499 184.9L1501.9 184.1L1504.8 183.3L1507.7 182.6L1510.6 181.8L1513.6 181L1516.5 180.3L1519.4 179.5L1522.3 178.7L1525.2 178L1528.1 177.2L1531 176.5L1533.9 175.7L1536.8 175L1539.7 174.2L1542.6 173.5L1545.5 172.7L1548.4 172L1551.3 171.2L1554.3 170.5L1557.2 169.7L1560.1 169L1563 168.3" stroke="#0000ff" stroke-width="9"/>
<path d="M334.9 880.1L334.9 877.1L335 874.1L335.2 871L335.4 868.4M347.7 830.7L349.7 827.2L354.9 819.4L358.7 814.4L364.8 807.5L367.6 804.8M405.4 784L411.1 783.1L417 782.6L419.9 782.5L425.9 782.5L431.4 782.8M469.1 788L472.2 788.4L478.4 789.1L484.6 789.7L490.7 790L495.1 790M532.9 780.7L537.3 778.1L546.3 775.1L549.1 773.8L554.7 771.1L558.9 768.9M596.6 745.1L599.4 743.1L606.8 737.7L611.6 734L618.7 728.4L622.6 725.2M660.4 692.4L666 687.3L670.4 683.2L677 677.1L681.4 673L686.4 668.3M724.1 633.4L727.8 630.1L734.5 624.1L739 620.1L745.7 614.2L750.1 610.4M787.9 579.9L792.2 576.6L799.3 571.3L804.1 567.7L811.3 562.4L813.9 560.6M851.6 533.4L855 530.9L862.4 525.6L867.3 522.1L874.6 516.9L877.6 514.7M915.4 488.2L919 485.7L924 482.3L931.4 477.2L936.4 473.9L941.4 470.6M979.1 446.7L982.1 444.9L987.2 441.7L994.9 437.1L1000.1 434.1L1005.1 431.1M1042.9 409.8L1047.1 407.5L1052.4 404.6L1060.3 400.4L1065.6 397.5L1068.9 395.8M1106.6 376.2L1110.9 374L1116.3 371.3L1124.3 367.3L1129.7 364.6L1132.6 363.2M1170.4 345.1L1175.8 342.5L1181.3 339.9L1186.7 337.4L1192.2 334.9L1196.4 332.9M1234.1 315.7L1238.8 313.7L1244.3 311.2L1249.8 308.7L1255.3 306.3L1260.1 304.2M1297.9 287.5L1302.2 285.6L1307.8 283.2L1313.3 280.8L1318.8 278.4L1323.9 276.2M1361.6 259.8L1365.8 258L1371.4 255.6L1376.9 253.2L1382.4 250.8L1387.6 248.5M1425.4 231.9L1429.3 230.1L1434.8 227.7L1443.1 224L1448.6 221.6L1451.4 220.3M1489.1 203.1L1492.4 201.6L1497.8 199.1L1506 195.3L1511.4 192.7L1515.1 191M1552.9 172.8L1554.7 171.9L1557.4 170.6L1560.1 169.3L1562.7 168" stroke="#00ff00" stroke-width="9"/>
<path d="M330.4 869.9L331 866.9L331.7 863.9L332.3 861L333 858.1L333.7 855.2L334.4 852.3L335.2 849.5L335.9 846.6L336.8 843.8L337.6 841L338.5 838.2L339.4 835.4L340.4 832.6L341.4 829.8L342.5 827L343.6 824.2L344.8 821.4L346 818.6L347.3 815.8L348.7 812.9L350.1 810.1L351.5 807.3L353.1 804.5L354.7 801.7L356.3 799L358 796.3L359.8 793.8L361.7 791.3L363.6 788.9L365.7 786.6L367.7 784.5L369.9 782.5L372.1 780.6L374.4 778.9L376.8 777.4L379.3 776.1L381.9 774.9L384.5 773.9L387.2 773.1L389.9 772.4L392.7 771.8L395.5 771.4L398.4 771.1L401.3 770.9L404.3 770.9L407.3 771L410.3 771.1L413.4 771.4L416.4 771.7L419.5 772.2L422.5 772.7L425.6 773.2L428.7 773.9L431.8 774.6L434.8 775.3L437.8 776.1L440.8 776.9L443.8 777.7L446.8 778.6L449.8 779.4L452.8 780.2L455.7 781.1L458.7 781.8L461.6 782.6L464.5 783.3L467.4 783.9L470.4 784.5L473.3 785L476.2 785.5L479.1 785.8L482 786L484.9 786.2L487.9 786.2L490.8 786.2L493.7 786.1L496.6 785.9L499.5 785.7L502.4 785.3L505.3 784.9L508.2 784.4L511.1 783.9L513.9 783.3L516.8 782.6L519.7 781.8L522.5 781L525.4 780.1L528.2 779.2L531.1 778.2L533.9 777.1L536.7 776L539.5 774.9L542.3 773.7L545.1 772.4L547.9 771.1L550.6 769.8L553.4 768.4L556.1 767L558.8 765.5L561.5 764.1L564.2 762.5L566.9 761L569.5 759.4L572.2 757.8L574.8 756.2L577.4 754.5L580 752.8L582.6 751.1L585.2 749.4L587.7 747.7L590.2 746L592.7 744.2L595.2 742.5L597.7 740.7L600.1 738.9L602.5 737.1L604.9 735.3L607.3 733.5L609.7 731.6L612.1 729.8L614.4 727.9L616.8 726.1L619.1 724.2L621.4 722.3L623.7 720.4L626 718.5L628.3 716.6L630.6 714.7L632.9 712.8L635.1 710.8L637.4 708.9L639.6 706.9L641.8 705L644.1 703L646.3 701.1L648.5 699.1L650.7 697.1L652.9 695.1L655.1 693.1L657.3 691.1L659.5 689.1L661.7 687.1L663.9 685.1L666.1 683L668.3 681L670.5 679L672.7 676.9L674.9 674.9L677.1 672.9L679.3 670.8L681.5 668.8L683.7 666.7L685.9 664.7L688.1 662.6L690.3 660.6L692.5 658.5L694.7 656.5L696.9 654.4L699.1 652.4L701.3 650.3L703.5 648.3L705.7 646.2L707.9 644.2L710.2 642.1L712.4 640.1L714.6 638L716.8 636L719 634L721.3 631.9L723.5 629.9L725.7 627.9L728 625.9L730.2 623.8L732.5 621.8L734.7 619.8L737 617.8L739.2 615.9L741.5 613.9L743.8 611.9L746.1 609.9L748.3 608L750.6 606L752.9 604.1L755.2 602.1L757.5 600.2L759.8 598.3L762.1 596.4L764.5 594.5L766.8 592.6L769.1 590.7L771.5 588.9L773.8 587L776.2 585.2L778.5 583.3L780.9 581.5L783.2 579.7L785.6 577.9L788 576.1L790.4 574.3L792.8 572.5L795.1 570.7L797.5 568.9L799.9 567.1L802.3 565.3L804.7 563.6L807.2 561.8L809.6 560L812 558.3L814.4 556.5L816.8 554.7L819.2 553L821.7 551.2L824.1 549.5L826.5 547.7L828.9 546L831.4 544.2L833.8 542.5L836.2 540.7L838.7 539L841.1 537.2L843.5 535.5L846 533.7L848.4 532L850.9 530.2L853.3 528.5L855.7 526.7L858.2 525L860.6 523.2L863.1 521.5L865.5 519.7L868 517.9L870.4 516.2L872.9 514.4L875.3 512.7L877.8 510.9L880.2 509.2L882.7 507.4L885.1 505.7L887.6 503.9L890.1 502.2L892.5 500.5L895 498.7L897.5 497L899.9 495.2L902.4 493.5L904.9 491.8L907.3 490.1L909.8 488.3L912.3 486.6L914.8 484.9L917.3 483.2L919.8 481.5L922.3 479.8L924.8 478.1L927.3 476.4L929.8 474.7L932.3 473.1L934.8 471.4L937.3 469.7L939.8 468.1L942.3 466.4L944.9 464.8L947.4 463.1L949.9 461.5L952.4 459.8L955 458.2L957.5 456.6L960.1 455L962.6 453.4L965.2 451.8L967.7 450.2L970.3 448.6L972.8 447L975.4 445.4L977.9 443.9L980.5 442.3L983.1 440.7L985.7 439.2L988.2 437.6L990.8 436.1L993.4 434.5L996 433L998.6 431.5L1001.2 430L1003.8 428.4L1006.4 426.9L1009 425.4L1011.6 423.9L1014.2 422.4L1016.8 420.9L1019.4 419.4L1022 418L1024.6 416.5L1027.2 415L1029.9 413.5L1032.5 412.1L1035.1 410.6L1037.8 409.2L1040.4 407.7L1043 406.3L1045.7 404.8L1048.3 403.4L1051 402L1053.6 400.5L1056.2 399.1L1058.9 397.7L1061.5 396.3L1064.2 394.9L1066.9 393.5L1069.5 392.1L1072.2 390.7L1074.9 389.3L1077.5 387.9L1080.2 386.5L1082.9 385.2L1085.5 383.8L1088.2 382.4L1090.9 381L1093.6 379.7L1096.2 378.3L1098.9 377L1101.6 375.6L1104.3 374.3L1107 372.9L1109.7 371.6L1112.4 370.2L1115.1 368.9L1117.8 367.6L1120.5 366.2L1123.2 364.9L1125.9 363.6L1128.6 362.3L1131.3 361L1134 359.7L1136.7 358.4L1139.4 357.1L1142.1 355.8L1144.9 354.5L1147.6 353.2L1150.3 351.9L1153 350.6L1155.7 349.3L1158.5 348L1161.2 346.7L1163.9 345.5L1166.6 344.2L1169.4 342.9L1172.1 341.6L1174.8 340.4L1177.6 339.1L1180.3 337.8L1183 336.6L1185.8 335.3L1188.5 334.1L1191.3 332.8L1194 331.6L1196.7 330.3L1199.5 329.1L1202.2 327.8L1205 326.6L1207.7 325.4L1210.5 324.1L1213.2 322.9L1216 321.7L1218.7 320.4L1221.5 319.2L1224.2 318L1227 316.7L1229.7 315.5L1232.5 314.3L1235.2 313.1L1238 311.9L1240.8 310.6L1243.5 309.4L1246.3 308.2L1249 307L1251.8 305.8L1254.6 304.6L1257.3 303.4L1260.1 302.2L1262.9 301L1265.6 299.8L1268.4 298.6L1271.2 297.4L1273.9 296.2L1276.7 295L1279.5 293.8L1282.2 292.6L1285 291.4L1287.8 290.2L1290.5 289L1293.3 287.8L1296.1 286.6L1298.8 285.4L1301.6 284.2L1304.4 283L1307.2 281.8L1309.9 280.6L1312.7 279.4L1315.5 278.2L1318.2 277.1L1321 275.9L1323.8 274.7L1326.6 273.5L1329.3 272.3L1332.1 271.1L1334.9 269.9L1337.6 268.7L1340.4 267.6L1343.2 266.4L1346 265.2L1348.7 264L1351.5 262.8L1354.3 261.6L1357.1 260.4L1359.8 259.3L1362.6 258.1L1365.4 256.9L1368.1 255.7L1370.9 254.5L1373.7 253.3L1376.4 252.1L1379.2 250.9L1382 249.7L1384.8 248.6L1387.5 247.4L1390.3 246.2L1393.1 245L1395.8 243.8L1398.6 242.6L1401.4 241.4L1404.1 240.2L1406.9 239L1409.7 237.8L1412.4 236.6L1415.2 235.4L1417.9 234.2L1420.7 233L1423.5 231.8L1426.2 230.6L1429 229.4L1431.7 228.2L1434.5 227L1437.3 225.8L1440 224.6L1442.8 223.3L1445.5 222.1L1448.3 220.9L1451 219.7L1453.8 218.5L1456.5 217.3L1459.3 216L1462 214.8L1464.8 213.6L1467.5 212.4L1470.3 211.1L1473 209.9L1475.7 208.7L1478.5 207.4L1481.2 206.2L1484 205L1486.7 203.7L1489.4 202.5L1492.2 201.2L1494.9 200L1497.6 198.7L1500.4 197.5L1503.1 196.2L1505.8 195L1508.6 193.7L1511.3 192.4L1514 191.2L1516.7 189.9L1519.4 188.6L1522.2 187.4L1524.9 186.1L1527.6 184.8L1530.3 183.5L1533 182.3L1535.7 181L1538.4 179.7L1541.1 178.4L1543.8 177.1L1546.6 175.8L1549.3 174.5L1552 173.2L1554.6 171.9L1557.3 170.6L1560 169.3L1562.7 167.9" stroke="#00ff00" stroke-width="9"/>
<path d="M334.7 144.8L334.7 148L334.7 151.1L334.8 154.3L334.8 157.4L334.9 160.5L335.1 163.5L335.2 166.6L335.4 169.6L335.6 172.7L335.8 175.7L336.1 178.7L336.3 181.7L336.6 184.6L336.9 187.6L337.3 190.6L337.6 193.5L338 196.5L338.4 199.4L338.8 202.3L339.2 205.2L339.6 208.2L340.1 211.1L340.5 214L341 216.9L341.5 219.8L342 222.7L342.5 225.6L343 228.5L343.5 231.4L344.1 234.3L344.6 237.2L345.1 240.1L345.7 243L346.2 245.9L346.8 248.9L347.4 251.8L347.9 254.8L348.5 257.7L349 260.7L349.6 263.6L350.2 266.6L350.7 269.6L351.3 272.6L351.8 275.6L352.4 278.6L353 281.7L353.5 284.7L354.1 287.7L354.7 290.8L355.3 293.8L355.9 296.9L356.5 299.9L357.2 302.9L357.8 305.9L358.5 309L359.3 312L360 315L360.8 317.9L361.6 320.9L362.4 323.9L363.3 326.8L364.2 329.7L365.2 332.6L366.2 335.5L367.3 338.3L368.3 341.1L369.5 343.9L370.7 346.7L371.9 349.4L373.2 352.1L374.6 354.8L376 357.4L377.5 360L379.1 362.5L380.7 365L382.4 367.5L384.1 369.9L385.9 372.3L387.8 374.6L389.8 376.9L391.9 379.1L394 381.1L396.2 383.1L398.5 384.9L400.8 386.6L403.3 388.2L405.8 389.5L408.4 390.7L411.1 391.7L413.8 392.4L416.6 392.9L419.5 393.2L422.4 393.2L425.4 393.1L428.4 392.9L431.3 392.5L434.3 392.1L437.2 391.6L440.1 391L442.9 390.3L445.8 389.5L448.6 388.6L451.4 387.7L454.2 386.7L457 385.7L459.8 384.6L462.5 383.4L465.2 382.2L468 381L470.7 379.7L473.4 378.3L476.1 377L478.8 375.6L481.5 374.1L484.2 372.7L486.8 371.2L489.5 369.7L492.2 368.2L494.8 366.7L497.5 365.2L500.2 363.7L502.8 362.2L505.5 360.7L508.2 359.2L510.8 357.7L513.5 356.2L516.2 354.8L518.8 353.3L521.5 351.8L524.2 350.3L526.8 348.9L529.5 347.4L532.2 345.9L534.8 344.4L537.5 343L540.2 341.5L542.8 340L545.5 338.6L548.1 337.1L550.8 335.7L553.5 334.2L556.1 332.7L558.8 331.3L561.4 329.8L564.1 328.4L566.8 326.9L569.4 325.4L572.1 324L574.7 322.5L577.4 321.1L580 319.6L582.6 318.1L585.3 316.7L587.9 315.2L590.6 313.7L593.2 312.3L595.8 310.8L598.5 309.3L601.1 307.8L603.7 306.4L606.3 304.9L609 303.4L611.6 301.9L614.2 300.4L616.8 298.9L619.4 297.4L622 295.9L624.6 294.4L627.2 292.9L629.8 291.4L632.4 289.9L635 288.4L637.6 286.9L640.2 285.3L642.7 283.8L645.3 282.3L647.9 280.7L650.4 279.2L653 277.6L655.6 276.1L658.1 274.5L660.7 272.9L663.2 271.3L665.7 269.8L668.3 268.2L670.8 266.6L673.3 265L675.9 263.4L678.4 261.7L680.9 260.1L683.4 258.5L685.9 256.8L688.4 255.2L690.9 253.6L693.3 251.9L695.8 250.2L698.3 248.5L700.8 246.9L703.2 245.2L705.7 243.5L708.1 241.7L710.6 240L713 238.3L715.4 236.6L717.9 234.8L720.3 233L722.7 231.3L725.1 229.5L727.5 227.7L729.9 225.9L732.3 224.1L734.6 222.3L737 220.4L739.4 218.6L741.7 216.8L744.1 214.9L746.4 213.1L748.8 211.2L751.1 209.3L753.5 207.4L755.8 205.5L758.1 203.6L760.4 201.7L762.8 199.8L765.1 197.9L767.4 196L769.7 194L772 192.1L774.3 190.2L776.6 188.2L778.9 186.3L781.2 184.3L783.5 182.4L785.8 180.4L788.1 178.4L790.4 176.5L792.7 174.5L795 172.5L797.2 170.6L799.5 168.6L801.8 166.6L804.1 164.6L806.4 162.6L808.7 160.7L811 158.7L813.3 156.7L815.6 154.7L817.8 152.7L820.1 150.7L822.4 148.7L824.7 146.8L827 144.8L829.3 142.8L831.6 140.8L833.9 138.8L836.2 136.8L838.5 134.9L840.8 132.9L843.2 130.9L845.5 129L847.8 127L850.1 125L852.5 123.1L854.8 121.1L857.1 119.2L859.5 117.2L861.8 115.3L864.2 113.4L866.5 111.4L868.9 109.5L871.3 107.6L873.6 105.7L876 103.8L878.4 101.9L880.8 100.1L883.2 98.3L885.7 96.5L888.1 94.7L890.6 93L893.1 91.3L895.5 89.7L898.1 88.1L900.6 86.6L903.2 85.1L905.7 83.7L908.3 82.4L911 81.1L913.6 79.9L916.3 78.8L919 77.7L921.7 76.8L924.5 75.9L927.3 75.1L930.1 74.5L933 73.9L935.9 73.4L938.8 73.1L941.8 72.8L944.8 72.7L947.8 72.6L950.9 72.7L953.9 72.8L957 73.1L960 73.4L963.1 73.9L966.1 74.4L969.2 75.1L972.2 75.8L975.2 76.7L978.1 77.6L981 78.6L983.9 79.7L986.7 80.9L989.5 82.1L992.2 83.5L994.9 84.9L997.5 86.4L1000 88L1002.5 89.6L1004.9 91.4L1007.3 93.1L1009.7 95L1012 96.9L1014.2 98.8L1016.4 100.8L1018.6 102.9L1020.8 105L1022.9 107.1L1025 109.3L1027 111.5L1029.1 113.7L1031.1 115.9L1033.1 118.2L1035.1 120.5L1037 122.8L1039 125.1L1041 127.4L1042.9 129.8L1044.9 132.1L1046.8 134.4L1048.8 136.7L1050.7 139L1052.7 141.3L1054.7 143.6L1056.6 145.9L1058.6 148.1L1060.6 150.4L1062.6 152.6L1064.7 154.8L1066.7 157.1L1068.7 159.3L1070.7 161.5L1072.7 163.7L1074.8 165.9L1076.8 168.1L1078.8 170.3L1080.9 172.5L1082.9 174.7L1085 176.9L1087 179.1L1089 181.3L1091 183.6L1093.1 185.8L1095.1 188L1097.1 190.3L1099.1 192.5L1101.2 194.7L1103.3 196.9L1105.4 199.1L1107.5 201.2L1109.7 203.3L1111.9 205.4L1114.2 207.4L1116.5 209.3L1118.9 211.2L1121.3 213L1123.8 214.7L1126.3 216.4L1128.8 218L1131.4 219.6L1134 221.1L1136.7 222.6L1139.4 223.9L1142.1 225.2L1144.8 226.5L1147.6 227.7L1150.4 228.8L1153.3 229.8L1156.1 230.8L1159 231.7L1161.9 232.6L1164.8 233.3L1167.7 234L1170.6 234.7L1173.5 235.2L1176.5 235.7L1179.4 236.1L1182.4 236.5L1185.3 236.8L1188.3 237L1191.3 237.1L1194.2 237.3L1197.2 237.3L1200.2 237.3L1203.2 237.3L1206.2 237.2L1209.2 237.1L1212.2 236.9L1215.2 236.7L1218.2 236.5L1221.2 236.2L1224.2 235.9L1227.2 235.6L1230.2 235.2L1233.3 234.9L1236.3 234.5L1239.3 234.1L1242.3 233.7L1245.3 233.2L1248.3 232.8L1251.3 232.4L1254.3 231.9L1257.3 231.5L1260.3 231.1L1263.3 230.6L1266.3 230.1L1269.3 229.7L1272.3 229.2L1275.3 228.7L1278.3 228.3L1281.2 227.8L1284.2 227.3L1287.2 226.8L1290.2 226.3L1293.2 225.8L1296.1 225.3L1299.1 224.8L1302.1 224.2L1305.1 223.7L1308 223.2L1311 222.7L1314 222.1L1316.9 221.6L1319.9 221L1322.8 220.5L1325.8 219.9L1328.8 219.4L1331.7 218.8L1334.7 218.2L1337.6 217.7L1340.6 217.1L1343.5 216.5L1346.5 215.9L1349.4 215.3L1352.4 214.7L1355.3 214.2L1358.3 213.5L1361.2 212.9L1364.1 212.3L1367.1 211.7L1370 211.1L1373 210.5L1375.9 209.9L1378.8 209.2L1381.8 208.6L1384.7 207.9L1387.6 207.3L1390.6 206.7L1393.5 206L1396.4 205.4L1399.4 204.7L1402.3 204L1405.2 203.4L1408.1 202.7L1411.1 202L1414 201.4L1416.9 200.7L1419.8 200L1422.8 199.3L1425.7 198.6L1428.6 197.9L1431.5 197.2L1434.4 196.6L1437.4 195.8L1440.3 195.1L1443.2 194.4L1446.1 193.7L1449 193L1451.9 192.3L1454.9 191.6L1457.8 190.9L1460.7 190.1L1463.6 189.4L1466.5 188.7L1469.4 187.9L1472.3 187.2L1475.2 186.4L1478.2 185.7L1481.1 185L1484 184.2L1486.9 183.5L1489.8 182.7L1492.7 181.9L1495.6 181.2L1498.5 180.4L1501.4 179.7L1504.4 178.9L1507.3 178.1L1510.2 177.3L1513.1 176.6L1516 175.8L1518.9 175L1521.8 174.2L1524.7 173.4L1527.6 172.7L1530.5 171.9L1533.4 171.1L1536.4 170.3L1539.3 169.5L1542.2 168.7L1545.1 167.9L1548 167.1L1550.9 166.3L1553.8 165.5L1556.7 164.7L1559.6 163.9L1562.5 163.1L1565.5 162.2L1568.4 161.4L1571.3 160.6L1574.2 159.8L1577.1 159L1580 158.1" stroke="#00ffff" stroke-width="9"/>
<path d="M1590 166.7L1593 166.9L1596 167.2L1599.1 167.4L1602.1 167.6L1605.2 167.9L1608.2 168.1L1611.2 168.3L1614.3 168.4L1617.3 168.6L1620.3 168.8L1623.4 168.9L1626.4 169.1L1629.5 169.2L1632.5 169.3L1635.5 169.4L1638.6 169.6L1641.6 169.7L1644.6 169.7L1647.7 169.8L1650.7 169.9L1653.8 170L1656.8 170L1659.8 170.1L1662.9 170.1L1665.9 170.2L1669 170.2L1672 170.2L1675 170.2L1678.1 170.2L1681.1 170.3L1684.2 170.2L1687.2 170.2L1690.2 170.2L1693.3 170.2L1696.3 170.2L1699.4 170.1L1702.4 170.1L1705.4 170.1L1708.5 170L1711.5 170L1714.6 169.9L1717.6 169.8L1720.6 169.8L1723.7 169.7L1726.7 169.6L1729.8 169.5L1732.8 169.4L1735.8 169.4L1738.9 169.3L1741.9 169.2L1745 169.1L1748 169L1751 168.9L1754.1 168.7L1757.1 168.6L1760.2 168.5L1763.2 168.4L1766.2 168.3L1769.3 168.2L1772.3 168L1775.4 167.9L1778.4 167.8L1781.4 167.6L1784.5 167.5L1787.5 167.4L1790.6 167.3L1793.6 167.1L1796.6 167L1799.7 166.8L1802.7 166.7L1805.8 166.6L1808.8 166.4L1811.8 166.3L1814.9 166.2L1817.9 166L1821 165.9L1824 165.7L1827 165.6L1830.1 165.5L1833.1 165.3L1836.2 165.2L1839.2 165.1L1842.2 164.9L1845.3 164.8L1848.3 164.7L1851.4 164.6L1854.4 164.4L1857.4 164.3L1860.5 164.2L1863.5 164.1L1866.5 164L1869.6 163.9L1872.6 163.7L1875.7 163.6L1878.7 163.5L1881.7 163.4L1884.8 163.3L1887.8 163.3L1890.8 163.2L1893.9 163.1L1896.9 163L1900 162.9L1903 162.9" stroke="#00ffff" stroke-width="10"/>
<path d="M336.5 265 L336.5 296" stroke="#ff00ff" stroke-width="5" stroke-linecap="butt"/>
<path d="M336.5 297 L336.5 306" stroke="#00ffff" stroke-width="5" stroke-linecap="butt"/>
<path d="M336.5 306 L336.5 321" stroke="#0000ff" stroke-width="5" stroke-linecap="butt"/>
<path d="M336.5 370 L336.5 380" stroke="#0000ff" stroke-width="5" stroke-linecap="butt"/>
<path d="M336.5 414 L336.5 423" stroke="#ff00ff" stroke-width="5" stroke-linecap="butt"/>
<path d="M336.5 738 L336.5 747" stroke="#800000" stroke-width="5" stroke-linecap="butt"/>
</g>
<circle cx="1592.5" cy="165" r="27.5"/>
<g id="legend"><path d="M1350 1316.7H1505.6" stroke="#0000ff" stroke-width="8.5" stroke-linecap="round"/><path d="M1350 1447.7h26.5M1414.3 1447.7h25.7M1477.5 1447.7h26.5" stroke="#000" stroke-width="8.5" stroke-linecap="round"/></g>
<g id="labels">
<text x="437" y="1714" font-size="81.5" stroke="#000" text-anchor="middle">0.1</text>
<text x="680.9" y="1714" font-size="81.5" stroke="#000" text-anchor="middle">0.2</text>
<text x="924.7" y="1714" font-size="81.5" stroke="#000" text-anchor="middle">0.3</text>
<text x="1168.5" y="1714" font-size="81.5" stroke="#000" text-anchor="middle">0.4</text>
<text x="1412.4" y="1714" font-size="81.5" stroke="#000" text-anchor="middle">0.5</text>
<text x="1656.2" y="1714" font-size="81.5" stroke="#000" text-anchor="middle">0.6</text>
<text x="1900.1" y="1714" font-size="81.5" stroke="#000" text-anchor="middle">0.7</text>
<text x="303.5" y="89.9" font-size="81.5" stroke="#000" text-anchor="end">0</text>
<text x="303.5" y="397.3" font-size="81.5" stroke="#000" text-anchor="end">-1</text>
<text x="303.5" y="704.7" font-size="81.5" stroke="#000" text-anchor="end">-2</text>
<text x="303.5" y="1012.2" font-size="81.5" stroke="#000" text-anchor="end">-3</text>
<text x="303.5" y="1319.6" font-size="81.5" stroke="#000" text-anchor="end">-4</text>
<text x="303.5" y="1627" font-size="81.5" stroke="#000" text-anchor="end">-5</text>
<text x="1260.4" y="550.4" font-size="95" fill="#800000" stroke="#800000">α</text>
<text transform="translate(1325.9 550.4) scale(1.170 1)" font-size="81.5" fill="#800000" stroke="#800000">=</text>
<text x="1400.2" y="550.4" font-size="81.5" fill="#800000" stroke="#800000">135°</text>
<text x="1018.4" y="765" font-size="95" fill="#ff00ff" stroke="#ff00ff">α</text>
<text transform="translate(1083.9 765) scale(1.170 1)" font-size="81.5" fill="#ff00ff" stroke="#ff00ff">=</text>
<text x="1158.2" y="765" font-size="81.5" fill="#ff00ff" stroke="#ff00ff">115°</text>
<text x="884.2" y="994.6" font-size="95" fill="#00ffff" stroke="#00ffff">α</text>
<text transform="translate(949.7 994.6) scale(1.170 1)" font-size="81.5" fill="#00ffff" stroke="#00ffff">=</text>
<text x="1020.9" y="994.6" font-size="81.5" fill="#00ffff" stroke="#00ffff">90°</text>
<text x="797.2" y="1211.8" font-size="95" fill="#0000ff" stroke="#0000ff">α</text>
<text transform="translate(862.7 1211.8) scale(1.170 1)" font-size="81.5" fill="#0000ff" stroke="#0000ff">=</text>
<text x="931.6" y="1211.8" font-size="81.5" fill="#0000ff" stroke="#0000ff">70°</text>
<text x="742.4" y="1455" font-size="95" fill="#00ff00" stroke="#00ff00">α</text>
<text transform="translate(807.9 1455) scale(1.170 1)" font-size="81.5" fill="#00ff00" stroke="#00ff00">=</text>
<text x="876.7" y="1455" font-size="81.5" fill="#00ff00" stroke="#00ff00">45°</text>
<text transform="translate(1158 157) scale(1.080 1)" font-size="82" font-style="italic" stroke="#000">ϕ</text>
<text transform="translate(1211.9 157) scale(1.160 1)" font-size="88" stroke="#000">=</text>
<text x="1284.9" y="157" font-size="88" stroke="#000">45°</text>
<text transform="translate(1516.7 877.8) scale(1.150 1)" font-size="87" font-style="italic" stroke="#000">η</text>
<text transform="translate(1575.7 877.8) scale(1.200 1)" font-size="88" stroke="#000">=</text>
<text x="1650.6" y="877.8" font-size="88" stroke="#000">2.6</text>
<text transform="translate(1579.6 294) scale(1.150 1)" font-size="79" font-style="italic" fill="#800000" stroke="#800000">T</text>
<text x="1622.3" y="258.6" font-size="82" fill="#800000" stroke="#800000">*</text>
<text x="1538" y="1340" font-size="80" stroke="#000">Δ</text>
<text x="1585.6" y="1372" font-size="49" stroke="#000">2</text>
<text x="1706.8" y="1340" font-size="83" stroke="#000">0</text>
<text x="1538" y="1471" font-size="80" stroke="#000">Δ</text>
<text x="1585.6" y="1503" font-size="49" stroke="#000">2</text>
<text x="1706.8" y="1471" font-size="83" stroke="#000">0</text>
<text transform="translate(1630.1 1341) scale(0.870 1)" font-size="80" stroke="#000">≠</text>
<text transform="translate(1633.7 1471) scale(1.170 1)" font-size="82" stroke="#000">=</text>
<text transform="translate(958 1820) scale(1.130 1)" font-size="88" font-style="italic" stroke="#000">T</text>
<text x="1005.5" y="1849.2" font-size="71" stroke="#000">cP</text>
<text transform="translate(1074.5 1820.5) skewX(-10)" font-size="94" stroke="#000">/</text>
<text transform="translate(1104.2 1820) scale(1.130 1)" font-size="88" font-style="italic" stroke="#000">T</text>
<text x="1151.8" y="1849.2" font-size="71" stroke="#000">c0</text>
</g>
<g id="ylabel" transform="translate(139 1153) rotate(-90)">
<text x="-3.7" y="0" font-size="90">(</text>
<text x="22.4" y="0" font-size="84">Δ</text>
<text transform="translate(72.6 0) scale(1.130 1)" font-size="90" font-style="italic">T</text>
<text x="122.1" y="28" font-size="77">c</text>
<text transform="translate(180.6 0) scale(0.950 1)" font-size="95">/</text>
<text transform="translate(203.3 0) scale(1.130 1)" font-size="90" font-style="italic">T</text>
<text x="252.6" y="28" font-size="77">c</text>
<text x="286.8" y="28" font-size="77">P</text>
<text x="328.6" y="0" font-size="90">)</text>
<text transform="translate(360.4 0) scale(0.950 1)" font-size="95">/</text>
<text x="407" y="0" font-size="90">(</text>
<text x="436.4" y="0" font-size="90" font-style="italic">t</text>
<text x="460.3" y="-63" font-size="77">2</text>
<text transform="translate(501.2 0) scale(0.950 1)" font-size="95">/</text>
<text transform="translate(547.3 0) scale(1.130 1)" font-size="90" font-style="italic">T</text>
<text x="597.1" y="-63" font-size="77">2</text>
<text x="597.6" y="45" font-size="77">c</text>
<text x="632.1" y="45" font-size="77">0</text>
<text x="668.5" y="0" font-size="90">)</text>
</g>
</svg>
</body></html>
